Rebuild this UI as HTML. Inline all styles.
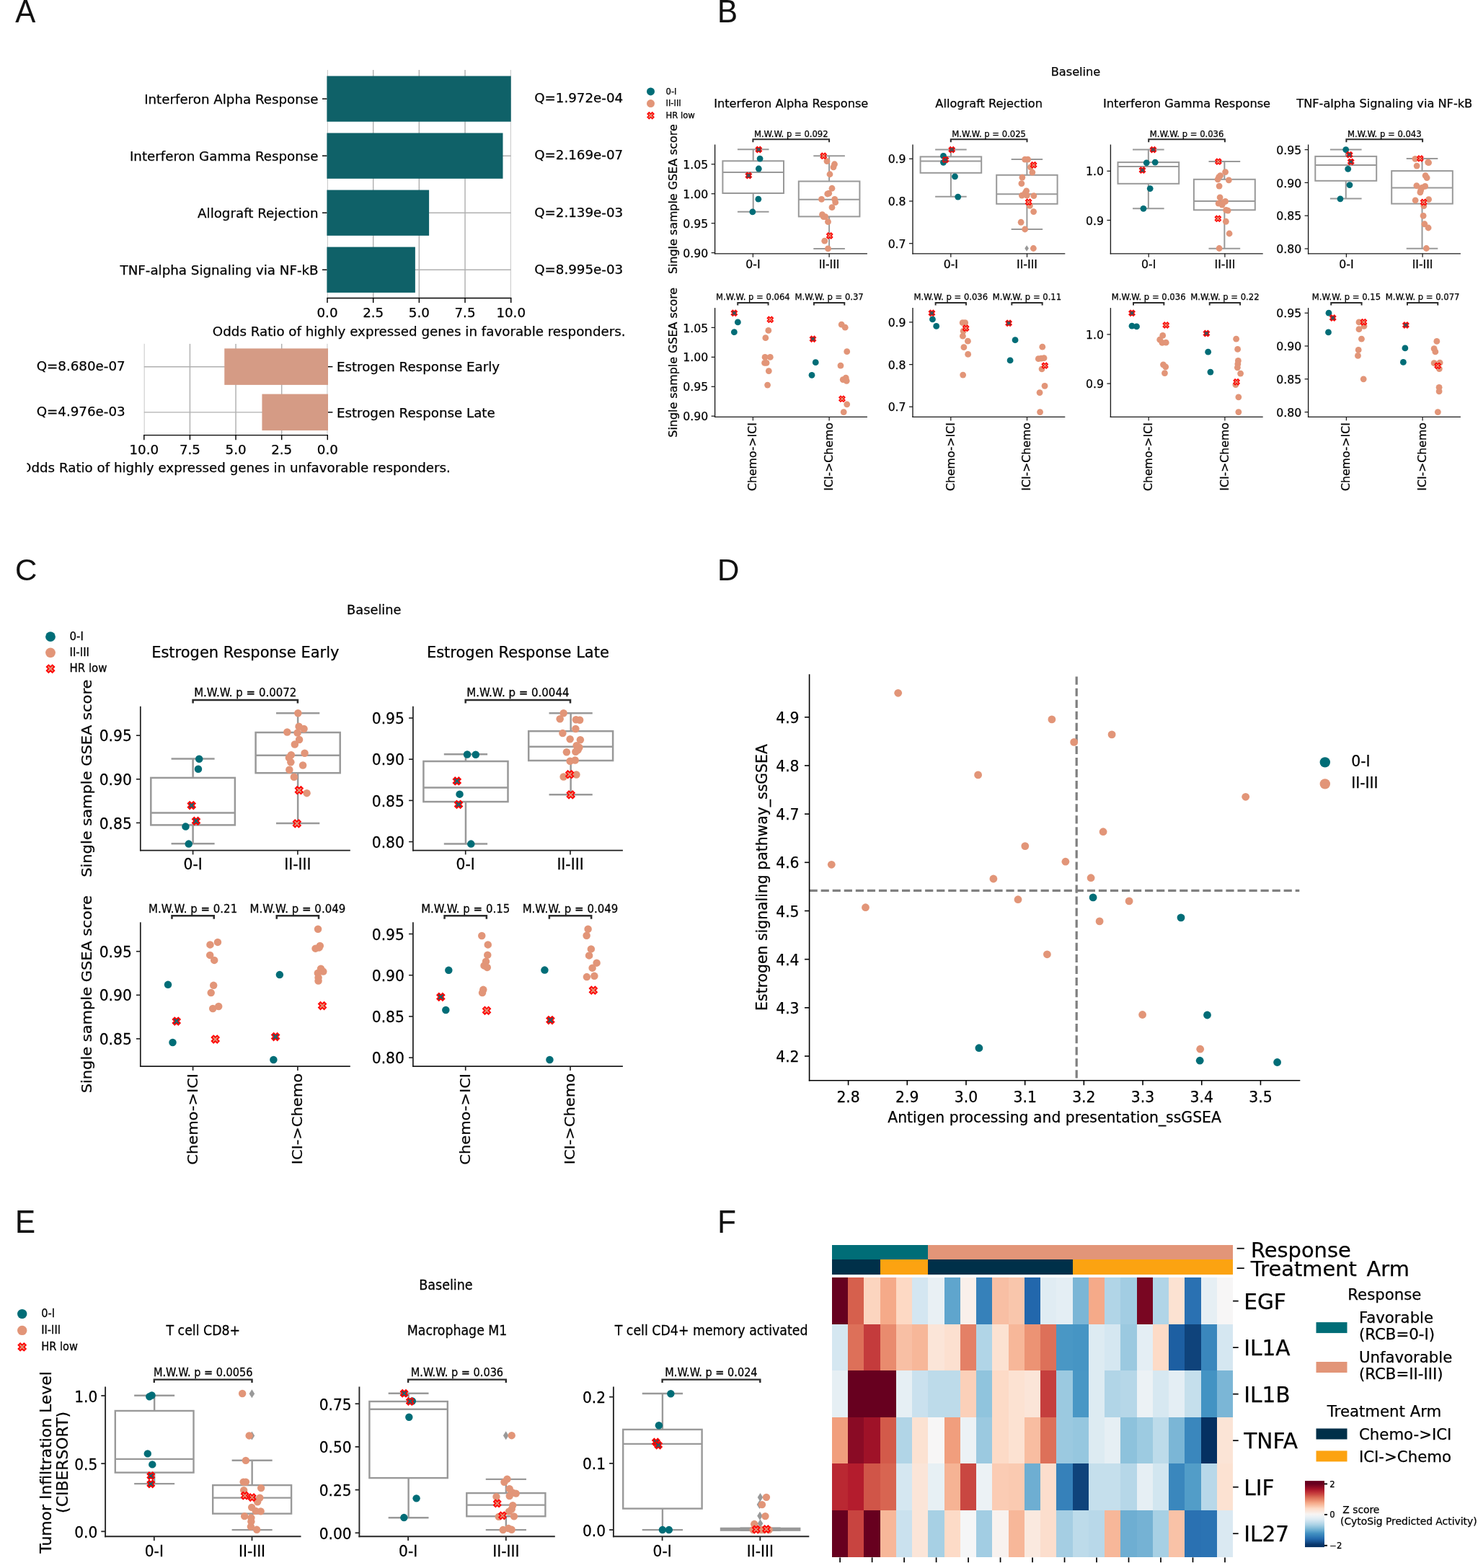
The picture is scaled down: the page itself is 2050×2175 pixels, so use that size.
<!DOCTYPE html>
<html lang="en"><head><meta charset="utf-8"><title>Figure</title>
<style>html,body{margin:0;padding:0;background:#fff}svg{display:block}text{font-family:"DejaVu Sans","Liberation Sans",sans-serif;fill:#000;stroke:#000;stroke-width:0.25px}.lb{font-family:"Liberation Sans",sans-serif;fill:#111;stroke:#111;stroke-width:0.1px}</style></head>
<body>
<svg width="2050" height="2175" viewBox="0 0 2050 2175">
<rect width="2050" height="2175" fill="#fff"/>
<!-- panel labels -->
<text transform="translate(21.2 30.8) scale(1 1.0400)" font-size="42" class="lb" fill="#111">A</text>
<text transform="translate(995 30.6) scale(1 1.0400)" font-size="42" class="lb" fill="#111">B</text>
<text transform="translate(21 805.3) scale(1 1.0100)" font-size="42" class="lb" fill="#111">C</text>
<text transform="translate(995 805.3) scale(1 1.0100)" font-size="42" class="lb" fill="#111">D</text>
<text transform="translate(21 1710.4) scale(1 1.0480)" font-size="42" class="lb" fill="#111">E</text>
<text transform="translate(995.2 1710.4) scale(1 1.0480)" font-size="42" class="lb" fill="#111">F</text>
<!-- panel A -->
<line x1="454.36" y1="97" x2="454.36" y2="413.4" stroke="#b0b0b0" stroke-width="0.72"/>
<line x1="517.67" y1="97" x2="517.67" y2="413.4" stroke="#b0b0b0" stroke-width="1.45"/>
<line x1="581.35" y1="97" x2="581.35" y2="413.4" stroke="#b0b0b0" stroke-width="1.45"/>
<line x1="645.03" y1="97" x2="645.03" y2="413.4" stroke="#b0b0b0" stroke-width="1.45"/>
<line x1="708.34" y1="97" x2="708.34" y2="413.4" stroke="#b0b0b0" stroke-width="0.72"/>
<line x1="454" y1="137.1" x2="708.7" y2="137.1" stroke="#b0b0b0" stroke-width="1.45"/>
<line x1="454" y1="216.15" x2="708.7" y2="216.15" stroke="#b0b0b0" stroke-width="1.45"/>
<line x1="454" y1="295.2" x2="708.7" y2="295.2" stroke="#b0b0b0" stroke-width="1.45"/>
<line x1="454" y1="374.25" x2="708.7" y2="374.25" stroke="#b0b0b0" stroke-width="1.45"/>
<rect x="453.4" y="105.45" width="255.3" height="63.3" fill="#0f6168"/>
<rect x="453.4" y="184.5" width="244.09" height="63.3" fill="#0f6168"/>
<rect x="453.4" y="263.55" width="141.7" height="63.3" fill="#0f6168"/>
<rect x="453.4" y="342.6" width="122.47" height="63.3" fill="#0f6168"/>
<line x1="453.3" y1="413.4" x2="709.4" y2="413.4" stroke="#000" stroke-width="1.45"/>
<line x1="454" y1="413.4" x2="454" y2="420" stroke="#000" stroke-width="1.45"/>
<text x="454" y="440.4" font-size="18.26" text-anchor="middle">0.0</text>
<line x1="517.67" y1="413.4" x2="517.67" y2="420" stroke="#000" stroke-width="1.45"/>
<text x="517.67" y="440.4" font-size="18.26" text-anchor="middle">2.5</text>
<line x1="581.35" y1="413.4" x2="581.35" y2="420" stroke="#000" stroke-width="1.45"/>
<text x="581.35" y="440.4" font-size="18.26" text-anchor="middle">5.0</text>
<line x1="645.03" y1="413.4" x2="645.03" y2="420" stroke="#000" stroke-width="1.45"/>
<text x="645.03" y="440.4" font-size="18.26" text-anchor="middle">7.5</text>
<line x1="708.7" y1="413.4" x2="708.7" y2="420" stroke="#000" stroke-width="1.45"/>
<text x="708.7" y="440.4" font-size="18.26" text-anchor="middle">10.0</text>
<line x1="447" y1="137.1" x2="453.4" y2="137.1" stroke="#000" stroke-width="1.45"/>
<text x="441.6" y="144.3" font-size="18.26" text-anchor="end">Interferon Alpha Response</text>
<text x="741.2" y="142.4" font-size="18.26">Q=1.972e-04</text>
<line x1="447" y1="216.15" x2="453.4" y2="216.15" stroke="#000" stroke-width="1.45"/>
<text x="441.6" y="223.35" font-size="18.26" text-anchor="end">Interferon Gamma Response</text>
<text x="741.2" y="221.45" font-size="18.26">Q=2.169e-07</text>
<line x1="447" y1="295.2" x2="453.4" y2="295.2" stroke="#000" stroke-width="1.45"/>
<text x="441.6" y="302.4" font-size="18.26" text-anchor="end">Allograft Rejection</text>
<text x="741.2" y="300.5" font-size="18.26">Q=2.139e-03</text>
<line x1="447" y1="374.25" x2="453.4" y2="374.25" stroke="#000" stroke-width="1.45"/>
<text x="441.6" y="381.45" font-size="18.26" text-anchor="end">TNF-alpha Signaling via NF-kB</text>
<text x="741.2" y="379.55" font-size="18.26">Q=8.995e-03</text>
<text x="581.2" y="465.9" font-size="18.26" text-anchor="middle">Odds Ratio of highly expressed genes in favorable responders.</text>
<line x1="200.16" y1="476.9" x2="200.16" y2="603.6" stroke="#b0b0b0" stroke-width="0.72"/>
<line x1="263.43" y1="476.9" x2="263.43" y2="603.6" stroke="#b0b0b0" stroke-width="1.45"/>
<line x1="327.05" y1="476.9" x2="327.05" y2="603.6" stroke="#b0b0b0" stroke-width="1.45"/>
<line x1="390.68" y1="476.9" x2="390.68" y2="603.6" stroke="#b0b0b0" stroke-width="1.45"/>
<line x1="453.94" y1="476.9" x2="453.94" y2="603.6" stroke="#b0b0b0" stroke-width="0.72"/>
<line x1="199.8" y1="508.65" x2="454.3" y2="508.65" stroke="#b0b0b0" stroke-width="1.45"/>
<line x1="199.8" y1="571.85" x2="454.3" y2="571.85" stroke="#b0b0b0" stroke-width="1.45"/>
<rect x="311.27" y="483.4" width="143.73" height="50.5" fill="#d59b85"/>
<rect x="363.44" y="546.6" width="91.56" height="50.5" fill="#d59b85"/>
<line x1="199.1" y1="603.6" x2="455" y2="603.6" stroke="#000" stroke-width="1.45"/>
<line x1="199.8" y1="603.6" x2="199.8" y2="610.2" stroke="#000" stroke-width="1.45"/>
<text x="199.8" y="630" font-size="18.26" text-anchor="middle">10.0</text>
<line x1="263.43" y1="603.6" x2="263.43" y2="610.2" stroke="#000" stroke-width="1.45"/>
<text x="263.43" y="630" font-size="18.26" text-anchor="middle">7.5</text>
<line x1="327.05" y1="603.6" x2="327.05" y2="610.2" stroke="#000" stroke-width="1.45"/>
<text x="327.05" y="630" font-size="18.26" text-anchor="middle">5.0</text>
<line x1="390.68" y1="603.6" x2="390.68" y2="610.2" stroke="#000" stroke-width="1.45"/>
<text x="390.68" y="630" font-size="18.26" text-anchor="middle">2.5</text>
<line x1="454.3" y1="603.6" x2="454.3" y2="610.2" stroke="#000" stroke-width="1.45"/>
<text x="454.3" y="630" font-size="18.26" text-anchor="middle">0.0</text>
<line x1="455" y1="508.65" x2="461.4" y2="508.65" stroke="#000" stroke-width="1.45"/>
<text x="466.9" y="515.45" font-size="18.26">Estrogen Response Early</text>
<text x="50.7" y="513.75" font-size="18.26">Q=8.680e-07</text>
<line x1="455" y1="571.85" x2="461.4" y2="571.85" stroke="#000" stroke-width="1.45"/>
<text x="466.9" y="578.65" font-size="18.26">Estrogen Response Late</text>
<text x="50.7" y="576.95" font-size="18.26">Q=4.976e-03</text>
<clipPath id="clipA"><rect x="37.4" y="630" width="700" height="40"/></clipPath>
<text x="327" y="654.8" font-size="18.26" text-anchor="middle" clip-path="url(#clipA)">Odds Ratio of highly expressed genes in unfavorable responders.</text>
<!-- panel B -->
<text x="1492" y="105" font-size="16.2" text-anchor="middle">Baseline</text>
<circle cx="902.5" cy="126.9" r="5.5" fill="#006d77"/>
<circle cx="902.5" cy="143.6" r="5.5" fill="#e29578"/>
<polygon points="900.3,155.9 902.5,158.1 904.7,155.9 906.9,158.1 904.7,160.3 906.9,162.5 904.7,164.7 902.5,162.5 900.3,164.7 898.1,162.5 900.3,160.3 898.1,158.1" fill="#e29578" stroke="#ff0000" stroke-width="1.5" stroke-linejoin="miter"/>
<text x="923.5" y="130.7" font-size="11.6">0-I</text>
<text x="923.5" y="147.4" font-size="11.6">II-III</text>
<text x="923.5" y="164.1" font-size="11.6">HR low</text>
<text x="1097.25" y="148.9" font-size="16.2" text-anchor="middle">Interferon Alpha Response</text>
<line x1="1044.7" y1="207.3" x2="1044.7" y2="223.3" stroke="#999999" stroke-width="2"/>
<line x1="1044.7" y1="268" x2="1044.7" y2="293.7" stroke="#999999" stroke-width="2"/>
<line x1="1022.92" y1="207.3" x2="1066.48" y2="207.3" stroke="#999999" stroke-width="2"/>
<line x1="1022.92" y1="293.7" x2="1066.48" y2="293.7" stroke="#999999" stroke-width="2"/>
<rect x="1002.4" y="223.3" width="84.6" height="44.7" fill="#fff" stroke="#999999" stroke-width="2"/>
<line x1="1002.4" y1="239" x2="1087" y2="239" stroke="#999999" stroke-width="2"/>
<line x1="1150.1" y1="216.3" x2="1150.1" y2="251.5" stroke="#999999" stroke-width="2"/>
<line x1="1150.1" y1="300.4" x2="1150.1" y2="344.9" stroke="#999999" stroke-width="2"/>
<line x1="1128.32" y1="216.3" x2="1171.88" y2="216.3" stroke="#999999" stroke-width="2"/>
<line x1="1128.32" y1="344.9" x2="1171.88" y2="344.9" stroke="#999999" stroke-width="2"/>
<rect x="1107.8" y="251.5" width="84.6" height="48.9" fill="#fff" stroke="#999999" stroke-width="2"/>
<line x1="1107.8" y1="276.7" x2="1192.4" y2="276.7" stroke="#999999" stroke-width="2"/>
<circle cx="1146.98" cy="223.53" r="4.4" fill="#e29578"/>
<circle cx="1157.47" cy="227.77" r="4.4" fill="#e29578"/>
<circle cx="1155.97" cy="231.77" r="4.4" fill="#e29578"/>
<circle cx="1150.98" cy="241.76" r="4.4" fill="#e29578"/>
<circle cx="1153.98" cy="261.24" r="4.4" fill="#e29578"/>
<circle cx="1149.73" cy="268.23" r="4.4" fill="#e29578"/>
<circle cx="1147.73" cy="268.98" r="4.4" fill="#e29578"/>
<circle cx="1139.49" cy="276.47" r="4.4" fill="#e29578"/>
<circle cx="1157.72" cy="276.47" r="4.4" fill="#e29578"/>
<circle cx="1158.72" cy="280.72" r="4.4" fill="#e29578"/>
<circle cx="1153.98" cy="287.71" r="4.4" fill="#e29578"/>
<circle cx="1140.49" cy="297.7" r="4.4" fill="#e29578"/>
<circle cx="1142.24" cy="300.7" r="4.4" fill="#e29578"/>
<circle cx="1144.74" cy="300.7" r="4.4" fill="#e29578"/>
<circle cx="1148.48" cy="307.69" r="4.4" fill="#e29578"/>
<circle cx="1143.74" cy="334.17" r="4.4" fill="#e29578"/>
<circle cx="1148.48" cy="344.91" r="4.4" fill="#e29578"/>
<circle cx="1054.08" cy="220.03" r="4.4" fill="#006d77"/>
<circle cx="1052.33" cy="234.02" r="4.4" fill="#006d77"/>
<circle cx="1051.83" cy="276.22" r="4.4" fill="#006d77"/>
<circle cx="1043.84" cy="293.96" r="4.4" fill="#006d77"/>
<polygon points="1140.26,212.33 1142.24,214.31 1144.21,212.33 1146.19,214.31 1144.21,216.28 1146.19,218.26 1144.21,220.23 1142.24,218.26 1140.26,220.23 1138.29,218.26 1140.26,216.28 1138.29,214.31" fill="#e29578" stroke="#ff0000" stroke-width="1.45" stroke-linejoin="miter"/>
<polygon points="1148.75,322.97 1150.73,324.95 1152.7,322.97 1154.68,324.95 1152.7,326.92 1154.68,328.9 1152.7,330.87 1150.73,328.9 1148.75,330.87 1146.78,328.9 1148.75,326.92 1146.78,324.95" fill="#e29578" stroke="#ff0000" stroke-width="1.45" stroke-linejoin="miter"/>
<polygon points="1050.35,203.59 1052.33,205.57 1054.3,203.59 1056.28,205.57 1054.3,207.54 1056.28,209.52 1054.3,211.49 1052.33,209.52 1050.35,211.49 1048.38,209.52 1050.35,207.54 1048.38,205.57" fill="#006d77" stroke="#ff0000" stroke-width="1.45" stroke-linejoin="miter"/>
<polygon points="1036.37,239.56 1038.34,241.53 1040.32,239.56 1042.29,241.53 1040.32,243.51 1042.29,245.48 1040.32,247.46 1038.34,245.48 1036.37,247.46 1034.39,245.48 1036.37,243.51 1034.39,241.53" fill="#006d77" stroke="#ff0000" stroke-width="1.45" stroke-linejoin="miter"/>
<line x1="991.6" y1="200.5" x2="991.6" y2="352.48" stroke="#1a1a1a" stroke-width="1.35"/>
<line x1="990.93" y1="351.8" x2="1202.9" y2="351.8" stroke="#1a1a1a" stroke-width="1.35"/>
<line x1="1044.4" y1="351.8" x2="1044.4" y2="356.8" stroke="#1a1a1a" stroke-width="1.25"/>
<text x="1044.4" y="371.8" font-size="15.7" text-anchor="middle">0-I</text>
<line x1="1150.1" y1="351.8" x2="1150.1" y2="356.8" stroke="#1a1a1a" stroke-width="1.25"/>
<text x="1150.1" y="371.8" font-size="15.7" text-anchor="middle">II-III</text>
<line x1="986.6" y1="227.8" x2="991.6" y2="227.8" stroke="#1a1a1a" stroke-width="1.25"/>
<text x="982.2" y="233.93" font-size="15.7" text-anchor="end">1.05</text>
<line x1="986.6" y1="268.75" x2="991.6" y2="268.75" stroke="#1a1a1a" stroke-width="1.25"/>
<text x="982.2" y="274.88" font-size="15.7" text-anchor="end">1.00</text>
<line x1="986.6" y1="309.7" x2="991.6" y2="309.7" stroke="#1a1a1a" stroke-width="1.25"/>
<text x="982.2" y="315.83" font-size="15.7" text-anchor="end">0.95</text>
<line x1="986.6" y1="350.6" x2="991.6" y2="350.6" stroke="#1a1a1a" stroke-width="1.25"/>
<text x="982.2" y="356.73" font-size="15.7" text-anchor="end">0.90</text>
<polyline points="1044.4,197.2 1044.4,193.3 1150.1,193.3 1150.1,197.2" fill="none" stroke="#2b2b2b" stroke-width="2"/>
<text x="1097.25" y="189.8" font-size="11.6" text-anchor="middle">M.W.W. p = 0.092</text>
<circle cx="1065.81" cy="458.42" r="4.4" fill="#e29578"/>
<circle cx="1061.82" cy="468.66" r="4.4" fill="#e29578"/>
<circle cx="1061.07" cy="495.38" r="4.4" fill="#e29578"/>
<circle cx="1068.31" cy="495.38" r="4.4" fill="#e29578"/>
<circle cx="1060.57" cy="503.38" r="4.4" fill="#e29578"/>
<circle cx="1063.07" cy="503.38" r="4.4" fill="#e29578"/>
<circle cx="1066.31" cy="514.62" r="4.4" fill="#e29578"/>
<circle cx="1064.57" cy="534.1" r="4.4" fill="#e29578"/>
<circle cx="1167.21" cy="450.18" r="4.4" fill="#e29578"/>
<circle cx="1172.21" cy="454.18" r="4.4" fill="#e29578"/>
<circle cx="1174.71" cy="487.64" r="4.4" fill="#e29578"/>
<circle cx="1165.96" cy="507.12" r="4.4" fill="#e29578"/>
<circle cx="1173.21" cy="524.11" r="4.4" fill="#e29578"/>
<circle cx="1169.21" cy="526.6" r="4.4" fill="#e29578"/>
<circle cx="1174.21" cy="528.35" r="4.4" fill="#e29578"/>
<circle cx="1174.71" cy="560.82" r="4.4" fill="#e29578"/>
<circle cx="1170.21" cy="571.56" r="4.4" fill="#e29578"/>
<circle cx="1023.36" cy="446.93" r="4.4" fill="#006d77"/>
<circle cx="1018.36" cy="460.67" r="4.4" fill="#006d77"/>
<circle cx="1131.25" cy="502.63" r="4.4" fill="#006d77"/>
<circle cx="1126" cy="520.36" r="4.4" fill="#006d77"/>
<polygon points="1066.34,439.24 1068.31,441.21 1070.29,439.24 1072.26,441.21 1070.29,443.19 1072.26,445.16 1070.29,447.14 1068.31,445.16 1066.34,447.14 1064.36,445.16 1066.34,443.19 1064.36,441.21" fill="#e29578" stroke="#ff0000" stroke-width="1.45" stroke-linejoin="miter"/>
<polygon points="1165.99,549.38 1167.96,551.35 1169.94,549.38 1171.91,551.35 1169.94,553.33 1171.91,555.3 1169.94,557.28 1167.96,555.3 1165.99,557.28 1164.01,555.3 1165.99,553.33 1164.01,551.35" fill="#e29578" stroke="#ff0000" stroke-width="1.45" stroke-linejoin="miter"/>
<polygon points="1016.39,430.25 1018.36,432.22 1020.34,430.25 1022.31,432.22 1020.34,434.2 1022.31,436.17 1020.34,438.15 1018.36,436.17 1016.39,438.15 1014.41,436.17 1016.39,434.2 1014.41,432.22" fill="#006d77" stroke="#ff0000" stroke-width="1.45" stroke-linejoin="miter"/>
<polygon points="1125.53,466.21 1127.5,468.18 1129.48,466.21 1131.45,468.18 1129.48,470.16 1131.45,472.13 1129.48,474.11 1127.5,472.13 1125.53,474.11 1123.55,472.13 1125.53,470.16 1123.55,468.18" fill="#006d77" stroke="#ff0000" stroke-width="1.45" stroke-linejoin="miter"/>
<line x1="991.6" y1="427.1" x2="991.6" y2="579.07" stroke="#1a1a1a" stroke-width="1.35"/>
<line x1="990.93" y1="578.4" x2="1202.9" y2="578.4" stroke="#1a1a1a" stroke-width="1.35"/>
<line x1="1044.4" y1="578.4" x2="1044.4" y2="583.4" stroke="#1a1a1a" stroke-width="1.25"/>
<text transform="translate(1049.2 586.2) rotate(-90)" font-size="15.7" text-anchor="end">Chemo-&gt;ICI</text>
<line x1="1150.1" y1="578.4" x2="1150.1" y2="583.4" stroke="#1a1a1a" stroke-width="1.25"/>
<text transform="translate(1154.9 586.2) rotate(-90)" font-size="15.7" text-anchor="end">ICI-&gt;Chemo</text>
<line x1="986.6" y1="454.4" x2="991.6" y2="454.4" stroke="#1a1a1a" stroke-width="1.25"/>
<text x="982.2" y="460.53" font-size="15.7" text-anchor="end">1.05</text>
<line x1="986.6" y1="495.35" x2="991.6" y2="495.35" stroke="#1a1a1a" stroke-width="1.25"/>
<text x="982.2" y="501.48" font-size="15.7" text-anchor="end">1.00</text>
<line x1="986.6" y1="536.3" x2="991.6" y2="536.3" stroke="#1a1a1a" stroke-width="1.25"/>
<text x="982.2" y="542.43" font-size="15.7" text-anchor="end">0.95</text>
<line x1="986.6" y1="577.2" x2="991.6" y2="577.2" stroke="#1a1a1a" stroke-width="1.25"/>
<text x="982.2" y="583.33" font-size="15.7" text-anchor="end">0.90</text>
<polyline points="1023.25,423.6 1023.25,419.9 1065.55,419.9 1065.55,423.6" fill="none" stroke="#2b2b2b" stroke-width="2"/>
<text x="1044.4" y="415.8" font-size="11.6" text-anchor="middle">M.W.W. p = 0.064</text>
<polyline points="1128.95,423.6 1128.95,419.9 1171.25,419.9 1171.25,423.6" fill="none" stroke="#2b2b2b" stroke-width="2"/>
<text x="1150.1" y="415.8" font-size="11.6" text-anchor="middle">M.W.W. p = 0.37</text>
<text x="1371.65" y="148.9" font-size="16.2" text-anchor="middle">Allograft Rejection</text>
<line x1="1318.9" y1="207.4" x2="1318.9" y2="217.4" stroke="#999999" stroke-width="2"/>
<line x1="1318.9" y1="239.8" x2="1318.9" y2="272.8" stroke="#999999" stroke-width="2"/>
<line x1="1297.12" y1="207.4" x2="1340.68" y2="207.4" stroke="#999999" stroke-width="2"/>
<line x1="1297.12" y1="272.8" x2="1340.68" y2="272.8" stroke="#999999" stroke-width="2"/>
<rect x="1276.6" y="217.4" width="84.6" height="22.4" fill="#fff" stroke="#999999" stroke-width="2"/>
<line x1="1276.6" y1="223.6" x2="1361.2" y2="223.6" stroke="#999999" stroke-width="2"/>
<line x1="1424.4" y1="220.9" x2="1424.4" y2="242.8" stroke="#999999" stroke-width="2"/>
<line x1="1424.4" y1="282.8" x2="1424.4" y2="318" stroke="#999999" stroke-width="2"/>
<line x1="1402.67" y1="220.9" x2="1446.13" y2="220.9" stroke="#999999" stroke-width="2"/>
<line x1="1402.67" y1="318" x2="1446.13" y2="318" stroke="#999999" stroke-width="2"/>
<rect x="1382.2" y="242.8" width="84.4" height="40" fill="#fff" stroke="#999999" stroke-width="2"/>
<line x1="1382.2" y1="269.3" x2="1466.6" y2="269.3" stroke="#999999" stroke-width="2"/>
<polygon points="1424.1,340.3 1426.9,344.5 1424.1,348.7 1421.3,344.5" fill="#999999"/>
<circle cx="1421.63" cy="221.11" r="4.4" fill="#e29578"/>
<circle cx="1425.62" cy="221.11" r="4.4" fill="#e29578"/>
<circle cx="1429.37" cy="231.85" r="4.4" fill="#e29578"/>
<circle cx="1431.87" cy="239.09" r="4.4" fill="#e29578"/>
<circle cx="1417.88" cy="246.08" r="4.4" fill="#e29578"/>
<circle cx="1416.88" cy="254.58" r="4.4" fill="#e29578"/>
<circle cx="1423.63" cy="264.82" r="4.4" fill="#e29578"/>
<circle cx="1421.88" cy="267.81" r="4.4" fill="#e29578"/>
<circle cx="1417.38" cy="271.06" r="4.4" fill="#e29578"/>
<circle cx="1424.38" cy="271.06" r="4.4" fill="#e29578"/>
<circle cx="1433.87" cy="271.56" r="4.4" fill="#e29578"/>
<circle cx="1428.37" cy="285.29" r="4.4" fill="#e29578"/>
<circle cx="1433.62" cy="293.54" r="4.4" fill="#e29578"/>
<circle cx="1416.13" cy="308.27" r="4.4" fill="#e29578"/>
<circle cx="1421.63" cy="318.01" r="4.4" fill="#e29578"/>
<circle cx="1433.37" cy="344.49" r="4.4" fill="#e29578"/>
<circle cx="1308.49" cy="216.36" r="4.4" fill="#006d77"/>
<circle cx="1308.49" cy="225.35" r="4.4" fill="#006d77"/>
<circle cx="1324.48" cy="244.84" r="4.4" fill="#006d77"/>
<circle cx="1328.72" cy="273.06" r="4.4" fill="#006d77"/>
<polygon points="1431.64,224.9 1433.62,226.88 1435.59,224.9 1437.57,226.88 1435.59,228.85 1437.57,230.83 1435.59,232.8 1433.62,230.83 1431.64,232.8 1429.67,230.83 1431.64,228.85 1429.67,226.88" fill="#e29578" stroke="#ff0000" stroke-width="1.45" stroke-linejoin="miter"/>
<polygon points="1424.65,276.35 1426.62,278.32 1428.6,276.35 1430.57,278.32 1428.6,280.3 1430.57,282.27 1428.6,284.25 1426.62,282.27 1424.65,284.25 1422.67,282.27 1424.65,280.3 1422.67,278.32" fill="#e29578" stroke="#ff0000" stroke-width="1.45" stroke-linejoin="miter"/>
<polygon points="1318.25,203.67 1320.23,205.65 1322.2,203.67 1324.18,205.65 1322.2,207.62 1324.18,209.6 1322.2,211.57 1320.23,209.6 1318.25,211.57 1316.28,209.6 1318.25,207.62 1316.28,205.65" fill="#006d77" stroke="#ff0000" stroke-width="1.45" stroke-linejoin="miter"/>
<polygon points="1309.51,217.66 1311.49,219.63 1313.46,217.66 1315.44,219.63 1313.46,221.61 1315.44,223.58 1313.46,225.56 1311.49,223.58 1309.51,225.56 1307.54,223.58 1309.51,221.61 1307.54,219.63" fill="#006d77" stroke="#ff0000" stroke-width="1.45" stroke-linejoin="miter"/>
<line x1="1266" y1="200.5" x2="1266" y2="352.48" stroke="#1a1a1a" stroke-width="1.35"/>
<line x1="1265.33" y1="351.8" x2="1477.3" y2="351.8" stroke="#1a1a1a" stroke-width="1.35"/>
<line x1="1318.8" y1="351.8" x2="1318.8" y2="356.8" stroke="#1a1a1a" stroke-width="1.25"/>
<text x="1318.8" y="371.8" font-size="15.7" text-anchor="middle">0-I</text>
<line x1="1424.5" y1="351.8" x2="1424.5" y2="356.8" stroke="#1a1a1a" stroke-width="1.25"/>
<text x="1424.5" y="371.8" font-size="15.7" text-anchor="middle">II-III</text>
<line x1="1261" y1="220.3" x2="1266" y2="220.3" stroke="#1a1a1a" stroke-width="1.25"/>
<text x="1256.6" y="226.43" font-size="15.7" text-anchor="end">0.9</text>
<line x1="1261" y1="279" x2="1266" y2="279" stroke="#1a1a1a" stroke-width="1.25"/>
<text x="1256.6" y="285.13" font-size="15.7" text-anchor="end">0.8</text>
<line x1="1261" y1="337.7" x2="1266" y2="337.7" stroke="#1a1a1a" stroke-width="1.25"/>
<text x="1256.6" y="343.83" font-size="15.7" text-anchor="end">0.7</text>
<polyline points="1318.8,197.2 1318.8,193.3 1424.5,193.3 1424.5,197.2" fill="none" stroke="#2b2b2b" stroke-width="2"/>
<text x="1371.65" y="189.8" font-size="11.6" text-anchor="middle">M.W.W. p = 0.025</text>
<circle cx="1335.15" cy="447.68" r="4.4" fill="#e29578"/>
<circle cx="1338.65" cy="447.68" r="4.4" fill="#e29578"/>
<circle cx="1336.15" cy="459.17" r="4.4" fill="#e29578"/>
<circle cx="1335.4" cy="466.16" r="4.4" fill="#e29578"/>
<circle cx="1342.4" cy="473.16" r="4.4" fill="#e29578"/>
<circle cx="1336.9" cy="481.65" r="4.4" fill="#e29578"/>
<circle cx="1342.65" cy="491.39" r="4.4" fill="#e29578"/>
<circle cx="1335.65" cy="520.11" r="4.4" fill="#e29578"/>
<circle cx="1445.79" cy="481.15" r="4.4" fill="#e29578"/>
<circle cx="1440.3" cy="497.63" r="4.4" fill="#e29578"/>
<circle cx="1444.3" cy="497.13" r="4.4" fill="#e29578"/>
<circle cx="1448.04" cy="496.63" r="4.4" fill="#e29578"/>
<circle cx="1445.04" cy="511.87" r="4.4" fill="#e29578"/>
<circle cx="1449.04" cy="535.34" r="4.4" fill="#e29578"/>
<circle cx="1442.05" cy="544.59" r="4.4" fill="#e29578"/>
<circle cx="1442.55" cy="571.56" r="4.4" fill="#e29578"/>
<circle cx="1293.45" cy="442.94" r="4.4" fill="#006d77"/>
<circle cx="1298.69" cy="452.43" r="4.4" fill="#006d77"/>
<circle cx="1408.08" cy="471.66" r="4.4" fill="#006d77"/>
<circle cx="1401.09" cy="499.88" r="4.4" fill="#006d77"/>
<polygon points="1337.68,451.22 1339.65,453.2 1341.63,451.22 1343.6,453.2 1341.63,455.17 1343.6,457.15 1341.63,459.12 1339.65,457.15 1337.68,459.12 1335.7,457.15 1337.68,455.17 1335.7,453.2" fill="#e29578" stroke="#ff0000" stroke-width="1.45" stroke-linejoin="miter"/>
<polygon points="1447.32,503.17 1449.29,505.15 1451.27,503.17 1453.24,505.15 1451.27,507.12 1453.24,509.1 1451.27,511.07 1449.29,509.1 1447.32,511.07 1445.34,509.1 1447.32,507.12 1445.34,505.15" fill="#e29578" stroke="#ff0000" stroke-width="1.45" stroke-linejoin="miter"/>
<polygon points="1290.47,430.25 1292.45,432.22 1294.42,430.25 1296.4,432.22 1294.42,434.2 1296.4,436.17 1294.42,438.15 1292.45,436.17 1290.47,438.15 1288.5,436.17 1290.47,434.2 1288.5,432.22" fill="#006d77" stroke="#ff0000" stroke-width="1.45" stroke-linejoin="miter"/>
<polygon points="1397.12,444.23 1399.09,446.21 1401.07,444.23 1403.04,446.21 1401.07,448.18 1403.04,450.16 1401.07,452.13 1399.09,450.16 1397.12,452.13 1395.14,450.16 1397.12,448.18 1395.14,446.21" fill="#006d77" stroke="#ff0000" stroke-width="1.45" stroke-linejoin="miter"/>
<line x1="1266" y1="427.1" x2="1266" y2="579.07" stroke="#1a1a1a" stroke-width="1.35"/>
<line x1="1265.33" y1="578.4" x2="1477.3" y2="578.4" stroke="#1a1a1a" stroke-width="1.35"/>
<line x1="1318.8" y1="578.4" x2="1318.8" y2="583.4" stroke="#1a1a1a" stroke-width="1.25"/>
<text transform="translate(1323.6 586.2) rotate(-90)" font-size="15.7" text-anchor="end">Chemo-&gt;ICI</text>
<line x1="1424.5" y1="578.4" x2="1424.5" y2="583.4" stroke="#1a1a1a" stroke-width="1.25"/>
<text transform="translate(1429.3 586.2) rotate(-90)" font-size="15.7" text-anchor="end">ICI-&gt;Chemo</text>
<line x1="1261" y1="446.9" x2="1266" y2="446.9" stroke="#1a1a1a" stroke-width="1.25"/>
<text x="1256.6" y="453.03" font-size="15.7" text-anchor="end">0.9</text>
<line x1="1261" y1="505.6" x2="1266" y2="505.6" stroke="#1a1a1a" stroke-width="1.25"/>
<text x="1256.6" y="511.73" font-size="15.7" text-anchor="end">0.8</text>
<line x1="1261" y1="564.3" x2="1266" y2="564.3" stroke="#1a1a1a" stroke-width="1.25"/>
<text x="1256.6" y="570.43" font-size="15.7" text-anchor="end">0.7</text>
<polyline points="1297.65,423.6 1297.65,419.9 1339.95,419.9 1339.95,423.6" fill="none" stroke="#2b2b2b" stroke-width="2"/>
<text x="1318.8" y="415.8" font-size="11.6" text-anchor="middle">M.W.W. p = 0.036</text>
<polyline points="1403.35,423.6 1403.35,419.9 1445.65,419.9 1445.65,423.6" fill="none" stroke="#2b2b2b" stroke-width="2"/>
<text x="1424.5" y="415.8" font-size="11.6" text-anchor="middle">M.W.W. p = 0.11</text>
<text x="1646.05" y="148.9" font-size="16.2" text-anchor="middle">Interferon Gamma Response</text>
<line x1="1592.85" y1="207.4" x2="1592.85" y2="225.1" stroke="#999999" stroke-width="2"/>
<line x1="1592.85" y1="254.8" x2="1592.85" y2="289.3" stroke="#999999" stroke-width="2"/>
<line x1="1571.04" y1="207.4" x2="1614.66" y2="207.4" stroke="#999999" stroke-width="2"/>
<line x1="1571.04" y1="289.3" x2="1614.66" y2="289.3" stroke="#999999" stroke-width="2"/>
<rect x="1550.5" y="225.1" width="84.7" height="29.7" fill="#fff" stroke="#999999" stroke-width="2"/>
<line x1="1550.5" y1="230.9" x2="1635.2" y2="230.9" stroke="#999999" stroke-width="2"/>
<line x1="1698.35" y1="224.1" x2="1698.35" y2="248.8" stroke="#999999" stroke-width="2"/>
<line x1="1698.35" y1="291.3" x2="1698.35" y2="344.7" stroke="#999999" stroke-width="2"/>
<line x1="1676.49" y1="224.1" x2="1720.21" y2="224.1" stroke="#999999" stroke-width="2"/>
<line x1="1676.49" y1="344.7" x2="1720.21" y2="344.7" stroke="#999999" stroke-width="2"/>
<rect x="1655.9" y="248.8" width="84.9" height="42.5" fill="#fff" stroke="#999999" stroke-width="2"/>
<line x1="1655.9" y1="279" x2="1740.8" y2="279" stroke="#999999" stroke-width="2"/>
<circle cx="1699.6" cy="238.59" r="4.4" fill="#e29578"/>
<circle cx="1692.61" cy="243.59" r="4.4" fill="#e29578"/>
<circle cx="1690.61" cy="245.58" r="4.4" fill="#e29578"/>
<circle cx="1689.11" cy="248.83" r="4.4" fill="#e29578"/>
<circle cx="1704.35" cy="249.83" r="4.4" fill="#e29578"/>
<circle cx="1691.11" cy="258.07" r="4.4" fill="#e29578"/>
<circle cx="1692.11" cy="273.81" r="4.4" fill="#e29578"/>
<circle cx="1699.6" cy="279.3" r="4.4" fill="#e29578"/>
<circle cx="1697.1" cy="280.55" r="4.4" fill="#e29578"/>
<circle cx="1690.11" cy="282.05" r="4.4" fill="#e29578"/>
<circle cx="1695.1" cy="284.05" r="4.4" fill="#e29578"/>
<circle cx="1700.6" cy="291.29" r="4.4" fill="#e29578"/>
<circle cx="1703.1" cy="292.04" r="4.4" fill="#e29578"/>
<circle cx="1700.35" cy="307.27" r="4.4" fill="#e29578"/>
<circle cx="1705.09" cy="324.01" r="4.4" fill="#e29578"/>
<circle cx="1691.11" cy="344.49" r="4.4" fill="#e29578"/>
<circle cx="1590.21" cy="225.85" r="4.4" fill="#006d77"/>
<circle cx="1602.2" cy="225.1" r="4.4" fill="#006d77"/>
<circle cx="1595.2" cy="261.57" r="4.4" fill="#006d77"/>
<circle cx="1585.96" cy="289.29" r="4.4" fill="#006d77"/>
<polygon points="1687.89,220.16 1689.86,222.13 1691.84,220.16 1693.81,222.13 1691.84,224.11 1693.81,226.08 1691.84,228.06 1689.86,226.08 1687.89,228.06 1685.91,226.08 1687.89,224.11 1685.91,222.13" fill="#e29578" stroke="#ff0000" stroke-width="1.45" stroke-linejoin="miter"/>
<polygon points="1687.39,299.33 1689.36,301.3 1691.34,299.33 1693.31,301.3 1691.34,303.28 1693.31,305.25 1691.34,307.23 1689.36,305.25 1687.39,307.23 1685.41,305.25 1687.39,303.28 1685.41,301.3" fill="#e29578" stroke="#ff0000" stroke-width="1.45" stroke-linejoin="miter"/>
<polygon points="1597.48,203.67 1599.45,205.65 1601.43,203.67 1603.4,205.65 1601.43,207.62 1603.4,209.6 1601.43,211.57 1599.45,209.6 1597.48,211.57 1595.5,209.6 1597.48,207.62 1595.5,205.65" fill="#006d77" stroke="#ff0000" stroke-width="1.45" stroke-linejoin="miter"/>
<polygon points="1582.49,232.14 1584.47,234.12 1586.44,232.14 1588.42,234.12 1586.44,236.09 1588.42,238.07 1586.44,240.04 1584.47,238.07 1582.49,240.04 1580.52,238.07 1582.49,236.09 1580.52,234.12" fill="#006d77" stroke="#ff0000" stroke-width="1.45" stroke-linejoin="miter"/>
<line x1="1540.4" y1="200.5" x2="1540.4" y2="352.48" stroke="#1a1a1a" stroke-width="1.35"/>
<line x1="1539.73" y1="351.8" x2="1751.7" y2="351.8" stroke="#1a1a1a" stroke-width="1.35"/>
<line x1="1593.2" y1="351.8" x2="1593.2" y2="356.8" stroke="#1a1a1a" stroke-width="1.25"/>
<text x="1593.2" y="371.8" font-size="15.7" text-anchor="middle">0-I</text>
<line x1="1698.9" y1="351.8" x2="1698.9" y2="356.8" stroke="#1a1a1a" stroke-width="1.25"/>
<text x="1698.9" y="371.8" font-size="15.7" text-anchor="middle">II-III</text>
<line x1="1535.4" y1="237.3" x2="1540.4" y2="237.3" stroke="#1a1a1a" stroke-width="1.25"/>
<text x="1531" y="243.43" font-size="15.7" text-anchor="end">1.0</text>
<line x1="1535.4" y1="305.5" x2="1540.4" y2="305.5" stroke="#1a1a1a" stroke-width="1.25"/>
<text x="1531" y="311.63" font-size="15.7" text-anchor="end">0.9</text>
<polyline points="1593.2,197.2 1593.2,193.3 1698.9,193.3 1698.9,197.2" fill="none" stroke="#2b2b2b" stroke-width="2"/>
<text x="1646.05" y="189.8" font-size="11.6" text-anchor="middle">M.W.W. p = 0.036</text>
<circle cx="1612.72" cy="465.41" r="4.4" fill="#e29578"/>
<circle cx="1608.72" cy="471.16" r="4.4" fill="#e29578"/>
<circle cx="1611.97" cy="475.4" r="4.4" fill="#e29578"/>
<circle cx="1617.21" cy="475.15" r="4.4" fill="#e29578"/>
<circle cx="1613.47" cy="505.87" r="4.4" fill="#e29578"/>
<circle cx="1616.72" cy="508.87" r="4.4" fill="#e29578"/>
<circle cx="1615.47" cy="517.61" r="4.4" fill="#e29578"/>
<circle cx="1714.62" cy="470.16" r="4.4" fill="#e29578"/>
<circle cx="1716.62" cy="484.4" r="4.4" fill="#e29578"/>
<circle cx="1717.36" cy="500.38" r="4.4" fill="#e29578"/>
<circle cx="1716.87" cy="504.88" r="4.4" fill="#e29578"/>
<circle cx="1716.37" cy="509.87" r="4.4" fill="#e29578"/>
<circle cx="1720.61" cy="518.11" r="4.4" fill="#e29578"/>
<circle cx="1713.87" cy="533.6" r="4.4" fill="#e29578"/>
<circle cx="1717.86" cy="550.83" r="4.4" fill="#e29578"/>
<circle cx="1717.86" cy="571.56" r="4.4" fill="#e29578"/>
<circle cx="1570.01" cy="452.18" r="4.4" fill="#006d77"/>
<circle cx="1576.51" cy="452.93" r="4.4" fill="#006d77"/>
<circle cx="1675.66" cy="488.14" r="4.4" fill="#006d77"/>
<circle cx="1678.9" cy="516.11" r="4.4" fill="#006d77"/>
<polygon points="1615.24,446.98 1617.21,448.95 1619.19,446.98 1621.16,448.95 1619.19,450.93 1621.16,452.9 1619.19,454.88 1617.21,452.9 1615.24,454.88 1613.26,452.9 1615.24,450.93 1613.26,448.95" fill="#e29578" stroke="#ff0000" stroke-width="1.45" stroke-linejoin="miter"/>
<polygon points="1713.14,525.9 1715.12,527.88 1717.09,525.9 1719.07,527.88 1717.09,529.85 1719.07,531.83 1717.09,533.8 1715.12,531.83 1713.14,533.8 1711.17,531.83 1713.14,529.85 1711.17,527.88" fill="#e29578" stroke="#ff0000" stroke-width="1.45" stroke-linejoin="miter"/>
<polygon points="1568.04,430.25 1570.01,432.22 1571.99,430.25 1573.96,432.22 1571.99,434.2 1573.96,436.17 1571.99,438.15 1570.01,436.17 1568.04,438.15 1566.06,436.17 1568.04,434.2 1566.06,432.22" fill="#006d77" stroke="#ff0000" stroke-width="1.45" stroke-linejoin="miter"/>
<polygon points="1671.43,458.47 1673.41,460.44 1675.38,458.47 1677.36,460.44 1675.38,462.42 1677.36,464.39 1675.38,466.37 1673.41,464.39 1671.43,466.37 1669.46,464.39 1671.43,462.42 1669.46,460.44" fill="#006d77" stroke="#ff0000" stroke-width="1.45" stroke-linejoin="miter"/>
<line x1="1540.4" y1="427.1" x2="1540.4" y2="579.07" stroke="#1a1a1a" stroke-width="1.35"/>
<line x1="1539.73" y1="578.4" x2="1751.7" y2="578.4" stroke="#1a1a1a" stroke-width="1.35"/>
<line x1="1593.2" y1="578.4" x2="1593.2" y2="583.4" stroke="#1a1a1a" stroke-width="1.25"/>
<text transform="translate(1598 586.2) rotate(-90)" font-size="15.7" text-anchor="end">Chemo-&gt;ICI</text>
<line x1="1698.9" y1="578.4" x2="1698.9" y2="583.4" stroke="#1a1a1a" stroke-width="1.25"/>
<text transform="translate(1703.7 586.2) rotate(-90)" font-size="15.7" text-anchor="end">ICI-&gt;Chemo</text>
<line x1="1535.4" y1="463.9" x2="1540.4" y2="463.9" stroke="#1a1a1a" stroke-width="1.25"/>
<text x="1531" y="470.03" font-size="15.7" text-anchor="end">1.0</text>
<line x1="1535.4" y1="532.1" x2="1540.4" y2="532.1" stroke="#1a1a1a" stroke-width="1.25"/>
<text x="1531" y="538.23" font-size="15.7" text-anchor="end">0.9</text>
<polyline points="1572.05,423.6 1572.05,419.9 1614.35,419.9 1614.35,423.6" fill="none" stroke="#2b2b2b" stroke-width="2"/>
<text x="1593.2" y="415.8" font-size="11.6" text-anchor="middle">M.W.W. p = 0.036</text>
<polyline points="1677.75,423.6 1677.75,419.9 1720.05,419.9 1720.05,423.6" fill="none" stroke="#2b2b2b" stroke-width="2"/>
<text x="1698.9" y="415.8" font-size="11.6" text-anchor="middle">M.W.W. p = 0.22</text>
<text x="1920.25" y="148.9" font-size="16.2" text-anchor="middle">TNF-alpha Signaling via NF-kB</text>
<line x1="1866.75" y1="207.6" x2="1866.75" y2="216.9" stroke="#999999" stroke-width="2"/>
<line x1="1866.75" y1="250.8" x2="1866.75" y2="275.6" stroke="#999999" stroke-width="2"/>
<line x1="1844.89" y1="207.6" x2="1888.61" y2="207.6" stroke="#999999" stroke-width="2"/>
<line x1="1844.89" y1="275.6" x2="1888.61" y2="275.6" stroke="#999999" stroke-width="2"/>
<rect x="1824.3" y="216.9" width="84.9" height="33.9" fill="#fff" stroke="#999999" stroke-width="2"/>
<line x1="1824.3" y1="228.9" x2="1909.2" y2="228.9" stroke="#999999" stroke-width="2"/>
<line x1="1972.5" y1="219.9" x2="1972.5" y2="237.1" stroke="#999999" stroke-width="2"/>
<line x1="1972.5" y1="282.6" x2="1972.5" y2="344.7" stroke="#999999" stroke-width="2"/>
<line x1="1950.72" y1="219.9" x2="1994.28" y2="219.9" stroke="#999999" stroke-width="2"/>
<line x1="1950.72" y1="344.7" x2="1994.28" y2="344.7" stroke="#999999" stroke-width="2"/>
<rect x="1930.2" y="237.1" width="84.6" height="45.5" fill="#fff" stroke="#999999" stroke-width="2"/>
<line x1="1930.2" y1="260.6" x2="2014.8" y2="260.6" stroke="#999999" stroke-width="2"/>
<circle cx="1962.87" cy="220.36" r="4.4" fill="#e29578"/>
<circle cx="1980.6" cy="225.1" r="4.4" fill="#e29578"/>
<circle cx="1981.6" cy="225.6" r="4.4" fill="#e29578"/>
<circle cx="1965.12" cy="230.1" r="4.4" fill="#e29578"/>
<circle cx="1977.1" cy="243.59" r="4.4" fill="#e29578"/>
<circle cx="1979.1" cy="246.58" r="4.4" fill="#e29578"/>
<circle cx="1964.87" cy="257.57" r="4.4" fill="#e29578"/>
<circle cx="1976.61" cy="258.32" r="4.4" fill="#e29578"/>
<circle cx="1972.11" cy="260.32" r="4.4" fill="#e29578"/>
<circle cx="1970.61" cy="264.07" r="4.4" fill="#e29578"/>
<circle cx="1969.86" cy="266.81" r="4.4" fill="#e29578"/>
<circle cx="1981.6" cy="276.55" r="4.4" fill="#e29578"/>
<circle cx="1963.12" cy="277.8" r="4.4" fill="#e29578"/>
<circle cx="1974.86" cy="285.54" r="4.4" fill="#e29578"/>
<circle cx="1974.11" cy="299.28" r="4.4" fill="#e29578"/>
<circle cx="1975.86" cy="310.77" r="4.4" fill="#e29578"/>
<circle cx="1981.1" cy="316.01" r="4.4" fill="#e29578"/>
<circle cx="1978.35" cy="344.49" r="4.4" fill="#e29578"/>
<circle cx="1866.72" cy="207.62" r="4.4" fill="#006d77"/>
<circle cx="1869.71" cy="234.35" r="4.4" fill="#006d77"/>
<circle cx="1871.96" cy="256.57" r="4.4" fill="#006d77"/>
<circle cx="1858.97" cy="275.8" r="4.4" fill="#006d77"/>
<polygon points="1967.89,215.91 1969.86,217.89 1971.84,215.91 1973.81,217.89 1971.84,219.86 1973.81,221.84 1971.84,223.81 1969.86,221.84 1967.89,223.81 1965.91,221.84 1967.89,219.86 1965.91,217.89" fill="#e29578" stroke="#ff0000" stroke-width="1.45" stroke-linejoin="miter"/>
<polygon points="1972.63,276.6 1974.61,278.57 1976.58,276.6 1978.56,278.57 1976.58,280.55 1978.56,282.52 1976.58,284.5 1974.61,282.52 1972.63,284.5 1970.66,282.52 1972.63,280.55 1970.66,278.57" fill="#e29578" stroke="#ff0000" stroke-width="1.45" stroke-linejoin="miter"/>
<polygon points="1869.74,210.67 1871.71,212.64 1873.69,210.67 1875.66,212.64 1873.69,214.62 1875.66,216.59 1873.69,218.57 1871.71,216.59 1869.74,218.57 1867.76,216.59 1869.74,214.62 1867.76,212.64" fill="#006d77" stroke="#ff0000" stroke-width="1.45" stroke-linejoin="miter"/>
<polygon points="1871.73,220.41 1873.71,222.38 1875.68,220.41 1877.66,222.38 1875.68,224.36 1877.66,226.33 1875.68,228.31 1873.71,226.33 1871.73,228.31 1869.76,226.33 1871.73,224.36 1869.76,222.38" fill="#006d77" stroke="#ff0000" stroke-width="1.45" stroke-linejoin="miter"/>
<line x1="1814.6" y1="200.5" x2="1814.6" y2="352.48" stroke="#1a1a1a" stroke-width="1.35"/>
<line x1="1813.92" y1="351.8" x2="2025.9" y2="351.8" stroke="#1a1a1a" stroke-width="1.35"/>
<line x1="1867.4" y1="351.8" x2="1867.4" y2="356.8" stroke="#1a1a1a" stroke-width="1.25"/>
<text x="1867.4" y="371.8" font-size="15.7" text-anchor="middle">0-I</text>
<line x1="1973.1" y1="351.8" x2="1973.1" y2="356.8" stroke="#1a1a1a" stroke-width="1.25"/>
<text x="1973.1" y="371.8" font-size="15.7" text-anchor="middle">II-III</text>
<line x1="1809.6" y1="207.6" x2="1814.6" y2="207.6" stroke="#1a1a1a" stroke-width="1.25"/>
<text x="1805.2" y="213.73" font-size="15.7" text-anchor="end">0.95</text>
<line x1="1809.6" y1="253.4" x2="1814.6" y2="253.4" stroke="#1a1a1a" stroke-width="1.25"/>
<text x="1805.2" y="259.53" font-size="15.7" text-anchor="end">0.90</text>
<line x1="1809.6" y1="299.2" x2="1814.6" y2="299.2" stroke="#1a1a1a" stroke-width="1.25"/>
<text x="1805.2" y="305.33" font-size="15.7" text-anchor="end">0.85</text>
<line x1="1809.6" y1="345" x2="1814.6" y2="345" stroke="#1a1a1a" stroke-width="1.25"/>
<text x="1805.2" y="351.13" font-size="15.7" text-anchor="end">0.80</text>
<polyline points="1867.4,197.2 1867.4,193.3 1973.1,193.3 1973.1,197.2" fill="none" stroke="#2b2b2b" stroke-width="2"/>
<text x="1920.25" y="189.8" font-size="11.6" text-anchor="middle">M.W.W. p = 0.043</text>
<circle cx="1884.95" cy="446.93" r="4.4" fill="#e29578"/>
<circle cx="1891.94" cy="452.43" r="4.4" fill="#e29578"/>
<circle cx="1884.95" cy="456.67" r="4.4" fill="#e29578"/>
<circle cx="1888.44" cy="470.16" r="4.4" fill="#e29578"/>
<circle cx="1884.2" cy="485.39" r="4.4" fill="#e29578"/>
<circle cx="1883.45" cy="493.39" r="4.4" fill="#e29578"/>
<circle cx="1891.19" cy="525.85" r="4.4" fill="#e29578"/>
<circle cx="1992.84" cy="473.41" r="4.4" fill="#e29578"/>
<circle cx="1989.09" cy="483.65" r="4.4" fill="#e29578"/>
<circle cx="1990.84" cy="487.89" r="4.4" fill="#e29578"/>
<circle cx="1989.09" cy="503.63" r="4.4" fill="#e29578"/>
<circle cx="1997.08" cy="503.13" r="4.4" fill="#e29578"/>
<circle cx="1996.34" cy="511.62" r="4.4" fill="#e29578"/>
<circle cx="1996.09" cy="537.34" r="4.4" fill="#e29578"/>
<circle cx="1996.09" cy="542.84" r="4.4" fill="#e29578"/>
<circle cx="1994.34" cy="571.56" r="4.4" fill="#e29578"/>
<circle cx="1842.99" cy="434.2" r="4.4" fill="#006d77"/>
<circle cx="1842.49" cy="460.92" r="4.4" fill="#006d77"/>
<circle cx="1948.88" cy="482.9" r="4.4" fill="#006d77"/>
<circle cx="1946.39" cy="502.38" r="4.4" fill="#006d77"/>
<polygon points="1889.47,442.73 1891.44,444.71 1893.42,442.73 1895.39,444.71 1893.42,446.68 1895.39,448.66 1893.42,450.63 1891.44,448.66 1889.47,450.63 1887.49,448.66 1889.47,446.68 1887.49,444.71" fill="#e29578" stroke="#ff0000" stroke-width="1.45" stroke-linejoin="miter"/>
<polygon points="1992.11,503.42 1994.09,505.4 1996.06,503.42 1998.04,505.4 1996.06,507.37 1998.04,509.35 1996.06,511.32 1994.09,509.35 1992.11,511.32 1990.14,509.35 1992.11,507.37 1990.14,505.4" fill="#e29578" stroke="#ff0000" stroke-width="1.45" stroke-linejoin="miter"/>
<polygon points="1846.76,436.99 1848.73,438.96 1850.71,436.99 1852.68,438.96 1850.71,440.94 1852.68,442.91 1850.71,444.89 1848.73,442.91 1846.76,444.89 1844.78,442.91 1846.76,440.94 1844.78,438.96" fill="#006d77" stroke="#ff0000" stroke-width="1.45" stroke-linejoin="miter"/>
<polygon points="1947.91,446.98 1949.88,448.95 1951.86,446.98 1953.83,448.95 1951.86,450.93 1953.83,452.9 1951.86,454.88 1949.88,452.9 1947.91,454.88 1945.93,452.9 1947.91,450.93 1945.93,448.95" fill="#006d77" stroke="#ff0000" stroke-width="1.45" stroke-linejoin="miter"/>
<line x1="1814.6" y1="427.1" x2="1814.6" y2="579.07" stroke="#1a1a1a" stroke-width="1.35"/>
<line x1="1813.92" y1="578.4" x2="2025.9" y2="578.4" stroke="#1a1a1a" stroke-width="1.35"/>
<line x1="1867.4" y1="578.4" x2="1867.4" y2="583.4" stroke="#1a1a1a" stroke-width="1.25"/>
<text transform="translate(1872.2 586.2) rotate(-90)" font-size="15.7" text-anchor="end">Chemo-&gt;ICI</text>
<line x1="1973.1" y1="578.4" x2="1973.1" y2="583.4" stroke="#1a1a1a" stroke-width="1.25"/>
<text transform="translate(1977.9 586.2) rotate(-90)" font-size="15.7" text-anchor="end">ICI-&gt;Chemo</text>
<line x1="1809.6" y1="434.2" x2="1814.6" y2="434.2" stroke="#1a1a1a" stroke-width="1.25"/>
<text x="1805.2" y="440.33" font-size="15.7" text-anchor="end">0.95</text>
<line x1="1809.6" y1="480" x2="1814.6" y2="480" stroke="#1a1a1a" stroke-width="1.25"/>
<text x="1805.2" y="486.13" font-size="15.7" text-anchor="end">0.90</text>
<line x1="1809.6" y1="525.8" x2="1814.6" y2="525.8" stroke="#1a1a1a" stroke-width="1.25"/>
<text x="1805.2" y="531.93" font-size="15.7" text-anchor="end">0.85</text>
<line x1="1809.6" y1="571.6" x2="1814.6" y2="571.6" stroke="#1a1a1a" stroke-width="1.25"/>
<text x="1805.2" y="577.73" font-size="15.7" text-anchor="end">0.80</text>
<polyline points="1846.25,423.6 1846.25,419.9 1888.55,419.9 1888.55,423.6" fill="none" stroke="#2b2b2b" stroke-width="2"/>
<text x="1867.4" y="415.8" font-size="11.6" text-anchor="middle">M.W.W. p = 0.15</text>
<polyline points="1951.95,423.6 1951.95,419.9 1994.25,419.9 1994.25,423.6" fill="none" stroke="#2b2b2b" stroke-width="2"/>
<text x="1973.1" y="415.8" font-size="11.6" text-anchor="middle">M.W.W. p = 0.077</text>
<text transform="translate(939.3 276.15) rotate(-90)" font-size="15.9" text-anchor="middle">Single sample GSEA score</text>
<text transform="translate(939.3 502.75) rotate(-90)" font-size="15.9" text-anchor="middle">Single sample GSEA score</text>
<!-- panel C -->
<text transform="translate(518.8 851.9) scale(1 1.0350)" font-size="17.8" text-anchor="middle">Baseline</text>
<circle cx="70" cy="883.2" r="6.9" fill="#006d77"/>
<circle cx="70" cy="905.3" r="6.9" fill="#e29578"/>
<polygon points="67.35,922.4 70,925.05 72.65,922.4 75.3,925.05 72.65,927.7 75.3,930.35 72.65,933 70,930.35 67.35,933 64.7,930.35 67.35,927.7 64.7,925.05" fill="#e29578" stroke="#ff0000" stroke-width="1.8" stroke-linejoin="miter"/>
<text transform="translate(96.5 887.5) scale(1 1.0350)" font-size="15">0-I</text>
<text transform="translate(96.5 909.6) scale(1 1.0350)" font-size="15">II-III</text>
<text transform="translate(96.5 931.8) scale(1 1.0350)" font-size="15">HR low</text>
<text x="340.3" y="911.8" font-size="21" text-anchor="middle">Estrogen Response Early</text>
<line x1="267.6" y1="1052.5" x2="267.6" y2="1078.9" stroke="#999999" stroke-width="2.5"/>
<line x1="267.6" y1="1144.4" x2="267.6" y2="1170.3" stroke="#999999" stroke-width="2.5"/>
<line x1="237.58" y1="1052.5" x2="297.62" y2="1052.5" stroke="#999999" stroke-width="2.5"/>
<line x1="237.58" y1="1170.3" x2="297.62" y2="1170.3" stroke="#999999" stroke-width="2.5"/>
<rect x="209.3" y="1078.9" width="116.6" height="65.5" fill="#fff" stroke="#999999" stroke-width="2.5"/>
<line x1="209.3" y1="1127.6" x2="325.9" y2="1127.6" stroke="#999999" stroke-width="2.5"/>
<line x1="413.15" y1="989.3" x2="413.15" y2="1016" stroke="#999999" stroke-width="2.5"/>
<line x1="413.15" y1="1072.2" x2="413.15" y2="1142.1" stroke="#999999" stroke-width="2.5"/>
<line x1="383" y1="989.3" x2="443.3" y2="989.3" stroke="#999999" stroke-width="2.5"/>
<line x1="383" y1="1142.1" x2="443.3" y2="1142.1" stroke="#999999" stroke-width="2.5"/>
<rect x="354.6" y="1016" width="117.1" height="56.2" fill="#fff" stroke="#999999" stroke-width="2.5"/>
<line x1="354.6" y1="1047.7" x2="471.7" y2="1047.7" stroke="#999999" stroke-width="2.5"/>
<circle cx="413.34" cy="989.27" r="5.25" fill="#e29578"/>
<circle cx="414.59" cy="1007.75" r="5.25" fill="#e29578"/>
<circle cx="421.58" cy="1011" r="5.25" fill="#e29578"/>
<circle cx="398.35" cy="1015.49" r="5.25" fill="#e29578"/>
<circle cx="412.59" cy="1016.49" r="5.25" fill="#e29578"/>
<circle cx="415.08" cy="1025.98" r="5.25" fill="#e29578"/>
<circle cx="408.84" cy="1032.48" r="5.25" fill="#e29578"/>
<circle cx="422.58" cy="1044.72" r="5.25" fill="#e29578"/>
<circle cx="403.85" cy="1047.21" r="5.25" fill="#e29578"/>
<circle cx="400.85" cy="1050.96" r="5.25" fill="#e29578"/>
<circle cx="403.35" cy="1057.2" r="5.25" fill="#e29578"/>
<circle cx="420.08" cy="1061.45" r="5.25" fill="#e29578"/>
<circle cx="401.35" cy="1067.69" r="5.25" fill="#e29578"/>
<circle cx="407.84" cy="1077.68" r="5.25" fill="#e29578"/>
<circle cx="425.57" cy="1100.16" r="5.25" fill="#e29578"/>
<circle cx="276.22" cy="1052.71" r="5.25" fill="#006d77"/>
<circle cx="274.98" cy="1066.69" r="5.25" fill="#006d77"/>
<circle cx="257.49" cy="1146.61" r="5.25" fill="#006d77"/>
<circle cx="261.74" cy="1170.59" r="5.25" fill="#006d77"/>
<polygon points="412.29,1091.06 414.84,1093.61 417.39,1091.06 419.94,1093.61 417.39,1096.16 419.94,1098.71 417.39,1101.26 414.84,1098.71 412.29,1101.26 409.74,1098.71 412.29,1096.16 409.74,1093.61" fill="#e29578" stroke="#ff0000" stroke-width="1.8" stroke-linejoin="miter"/>
<polygon points="409.29,1137.27 411.84,1139.82 414.39,1137.27 416.94,1139.82 414.39,1142.37 416.94,1144.92 414.39,1147.47 411.84,1144.92 409.29,1147.47 406.74,1144.92 409.29,1142.37 406.74,1139.82" fill="#e29578" stroke="#ff0000" stroke-width="1.8" stroke-linejoin="miter"/>
<polygon points="263.18,1112.04 265.73,1114.59 268.28,1112.04 270.83,1114.59 268.28,1117.14 270.83,1119.69 268.28,1122.24 265.73,1119.69 263.18,1122.24 260.63,1119.69 263.18,1117.14 260.63,1114.59" fill="#006d77" stroke="#ff0000" stroke-width="1.8" stroke-linejoin="miter"/>
<polygon points="269.43,1133.77 271.98,1136.32 274.53,1133.77 277.08,1136.32 274.53,1138.87 277.08,1141.42 274.53,1143.97 271.98,1141.42 269.43,1143.97 266.88,1141.42 269.43,1138.87 266.88,1136.32" fill="#006d77" stroke="#ff0000" stroke-width="1.8" stroke-linejoin="miter"/>
<line x1="194.8" y1="979.8" x2="194.8" y2="1180.45" stroke="#1c1c1c" stroke-width="1.7"/>
<line x1="193.95" y1="1179.6" x2="485.8" y2="1179.6" stroke="#1c1c1c" stroke-width="1.7"/>
<line x1="267.6" y1="1179.6" x2="267.6" y2="1185.4" stroke="#1c1c1c" stroke-width="1.6"/>
<text transform="translate(267.6 1205.6) scale(1 1.0350)" font-size="20.3" text-anchor="middle">0-I</text>
<line x1="412.9" y1="1179.6" x2="412.9" y2="1185.4" stroke="#1c1c1c" stroke-width="1.6"/>
<text transform="translate(412.9 1205.6) scale(1 1.0350)" font-size="20.3" text-anchor="middle">II-III</text>
<line x1="189" y1="1020.2" x2="194.8" y2="1020.2" stroke="#1c1c1c" stroke-width="1.6"/>
<text transform="translate(182.8 1028.37) scale(1 1.0350)" font-size="20.3" text-anchor="end">0.95</text>
<line x1="189" y1="1080.8" x2="194.8" y2="1080.8" stroke="#1c1c1c" stroke-width="1.6"/>
<text transform="translate(182.8 1088.97) scale(1 1.0350)" font-size="20.3" text-anchor="end">0.90</text>
<line x1="189" y1="1141.4" x2="194.8" y2="1141.4" stroke="#1c1c1c" stroke-width="1.6"/>
<text transform="translate(182.8 1149.57) scale(1 1.0350)" font-size="20.3" text-anchor="end">0.85</text>
<polyline points="267.6,975.6 267.6,971 412.9,971 412.9,975.6" fill="none" stroke="#2b2b2b" stroke-width="2.5"/>
<text transform="translate(340.25 966) scale(1 1.0350)" font-size="15" text-anchor="middle">M.W.W. p = 0.0072</text>
<circle cx="291.46" cy="1310.41" r="5.25" fill="#e29578"/>
<circle cx="301.95" cy="1306.91" r="5.25" fill="#e29578"/>
<circle cx="291.21" cy="1324.9" r="5.25" fill="#e29578"/>
<circle cx="297.2" cy="1331.89" r="5.25" fill="#e29578"/>
<circle cx="296.2" cy="1366.85" r="5.25" fill="#e29578"/>
<circle cx="292.71" cy="1377.09" r="5.25" fill="#e29578"/>
<circle cx="303.2" cy="1396.07" r="5.25" fill="#e29578"/>
<circle cx="295.2" cy="1399.07" r="5.25" fill="#e29578"/>
<circle cx="441.06" cy="1288.68" r="5.25" fill="#e29578"/>
<circle cx="443.81" cy="1311.91" r="5.25" fill="#e29578"/>
<circle cx="442.56" cy="1314.41" r="5.25" fill="#e29578"/>
<circle cx="437.56" cy="1315.65" r="5.25" fill="#e29578"/>
<circle cx="445.05" cy="1343.63" r="5.25" fill="#e29578"/>
<circle cx="448.3" cy="1347.62" r="5.25" fill="#e29578"/>
<circle cx="440.81" cy="1349.87" r="5.25" fill="#e29578"/>
<circle cx="441.56" cy="1356.11" r="5.25" fill="#e29578"/>
<circle cx="441.56" cy="1360.61" r="5.25" fill="#e29578"/>
<circle cx="233.02" cy="1365.85" r="5.25" fill="#006d77"/>
<circle cx="239.51" cy="1446.02" r="5.25" fill="#006d77"/>
<circle cx="387.86" cy="1352.12" r="5.25" fill="#006d77"/>
<circle cx="379.37" cy="1470" r="5.25" fill="#006d77"/>
<polygon points="296.15,1436.43 298.7,1438.98 301.25,1436.43 303.8,1438.98 301.25,1441.53 303.8,1444.08 301.25,1446.63 298.7,1444.08 296.15,1446.63 293.6,1444.08 296.15,1441.53 293.6,1438.98" fill="#e29578" stroke="#ff0000" stroke-width="1.8" stroke-linejoin="miter"/>
<polygon points="444.5,1389.97 447.05,1392.52 449.6,1389.97 452.15,1392.52 449.6,1395.07 452.15,1397.62 449.6,1400.17 447.05,1397.62 444.5,1400.17 441.95,1397.62 444.5,1395.07 441.95,1392.52" fill="#e29578" stroke="#ff0000" stroke-width="1.8" stroke-linejoin="miter"/>
<polygon points="242.21,1411.45 244.76,1414 247.31,1411.45 249.86,1414 247.31,1416.55 249.86,1419.1 247.31,1421.65 244.76,1419.1 242.21,1421.65 239.66,1419.1 242.21,1416.55 239.66,1414" fill="#006d77" stroke="#ff0000" stroke-width="1.8" stroke-linejoin="miter"/>
<polygon points="379.57,1432.93 382.12,1435.48 384.67,1432.93 387.22,1435.48 384.67,1438.03 387.22,1440.58 384.67,1443.13 382.12,1440.58 379.57,1443.13 377.02,1440.58 379.57,1438.03 377.02,1435.48" fill="#006d77" stroke="#ff0000" stroke-width="1.8" stroke-linejoin="miter"/>
<line x1="194.8" y1="1279.3" x2="194.8" y2="1479.95" stroke="#1c1c1c" stroke-width="1.7"/>
<line x1="193.95" y1="1479.1" x2="485.8" y2="1479.1" stroke="#1c1c1c" stroke-width="1.7"/>
<line x1="267.6" y1="1479.1" x2="267.6" y2="1484.9" stroke="#1c1c1c" stroke-width="1.6"/>
<text transform="translate(273.8 1489) rotate(-90) scale(1 0.9660)" font-size="21" text-anchor="end">Chemo-&gt;ICI</text>
<line x1="412.9" y1="1479.1" x2="412.9" y2="1484.9" stroke="#1c1c1c" stroke-width="1.6"/>
<text transform="translate(419.1 1489) rotate(-90) scale(1 0.9660)" font-size="21" text-anchor="end">ICI-&gt;Chemo</text>
<line x1="189" y1="1319.7" x2="194.8" y2="1319.7" stroke="#1c1c1c" stroke-width="1.6"/>
<text transform="translate(182.8 1327.87) scale(1 1.0350)" font-size="20.3" text-anchor="end">0.95</text>
<line x1="189" y1="1380.3" x2="194.8" y2="1380.3" stroke="#1c1c1c" stroke-width="1.6"/>
<text transform="translate(182.8 1388.47) scale(1 1.0350)" font-size="20.3" text-anchor="end">0.90</text>
<line x1="189" y1="1440.9" x2="194.8" y2="1440.9" stroke="#1c1c1c" stroke-width="1.6"/>
<text transform="translate(182.8 1449.07) scale(1 1.0350)" font-size="20.3" text-anchor="end">0.85</text>
<polyline points="238.45,1274.8 238.45,1270.3 296.75,1270.3 296.75,1274.8" fill="none" stroke="#2b2b2b" stroke-width="2.5"/>
<text transform="translate(267.6 1265.5) scale(1 1.0350)" font-size="15" text-anchor="middle">M.W.W. p = 0.21</text>
<polyline points="383.75,1274.8 383.75,1270.3 442.05,1270.3 442.05,1274.8" fill="none" stroke="#2b2b2b" stroke-width="2.5"/>
<text transform="translate(412.9 1265.5) scale(1 1.0350)" font-size="15" text-anchor="middle">M.W.W. p = 0.049</text>
<text x="718.4" y="911.8" font-size="21" text-anchor="middle">Estrogen Response Late</text>
<line x1="645.95" y1="1046.2" x2="645.95" y2="1056" stroke="#999999" stroke-width="2.5"/>
<line x1="645.95" y1="1112.1" x2="645.95" y2="1170.6" stroke="#999999" stroke-width="2.5"/>
<line x1="615.8" y1="1046.2" x2="676.1" y2="1046.2" stroke="#999999" stroke-width="2.5"/>
<line x1="615.8" y1="1170.6" x2="676.1" y2="1170.6" stroke="#999999" stroke-width="2.5"/>
<rect x="587.4" y="1056" width="117.1" height="56.1" fill="#fff" stroke="#999999" stroke-width="2.5"/>
<line x1="587.4" y1="1092.4" x2="704.5" y2="1092.4" stroke="#999999" stroke-width="2.5"/>
<line x1="791.65" y1="989.3" x2="791.65" y2="1014.2" stroke="#999999" stroke-width="2.5"/>
<line x1="791.65" y1="1055" x2="791.65" y2="1102.2" stroke="#999999" stroke-width="2.5"/>
<line x1="761.55" y1="989.3" x2="821.75" y2="989.3" stroke="#999999" stroke-width="2.5"/>
<line x1="761.55" y1="1102.2" x2="821.75" y2="1102.2" stroke="#999999" stroke-width="2.5"/>
<rect x="733.2" y="1014.2" width="116.9" height="40.8" fill="#fff" stroke="#999999" stroke-width="2.5"/>
<line x1="733.2" y1="1035.7" x2="850.1" y2="1035.7" stroke="#999999" stroke-width="2.5"/>
<circle cx="781.66" cy="989.27" r="5.25" fill="#e29578"/>
<circle cx="776.66" cy="997.26" r="5.25" fill="#e29578"/>
<circle cx="798.89" cy="998.26" r="5.25" fill="#e29578"/>
<circle cx="804.14" cy="998.76" r="5.25" fill="#e29578"/>
<circle cx="798.39" cy="1011" r="5.25" fill="#e29578"/>
<circle cx="780.41" cy="1016.99" r="5.25" fill="#e29578"/>
<circle cx="790.65" cy="1025.23" r="5.25" fill="#e29578"/>
<circle cx="804.89" cy="1026.23" r="5.25" fill="#e29578"/>
<circle cx="799.64" cy="1034.23" r="5.25" fill="#e29578"/>
<circle cx="803.39" cy="1036.72" r="5.25" fill="#e29578"/>
<circle cx="785.9" cy="1043.22" r="5.25" fill="#e29578"/>
<circle cx="798.39" cy="1042.72" r="5.25" fill="#e29578"/>
<circle cx="801.64" cy="1040.22" r="5.25" fill="#e29578"/>
<circle cx="790.65" cy="1055.7" r="5.25" fill="#e29578"/>
<circle cx="797.64" cy="1054.46" r="5.25" fill="#e29578"/>
<circle cx="781.66" cy="1077.43" r="5.25" fill="#e29578"/>
<circle cx="799.39" cy="1074.44" r="5.25" fill="#e29578"/>
<circle cx="648.04" cy="1046.46" r="5.25" fill="#006d77"/>
<circle cx="659.78" cy="1046.71" r="5.25" fill="#006d77"/>
<circle cx="637.55" cy="1101.66" r="5.25" fill="#006d77"/>
<circle cx="653.29" cy="1170.59" r="5.25" fill="#006d77"/>
<polygon points="787.6,1069.09 790.15,1071.64 792.7,1069.09 795.25,1071.64 792.7,1074.19 795.25,1076.74 792.7,1079.29 790.15,1076.74 787.6,1079.29 785.05,1076.74 787.6,1074.19 785.05,1071.64" fill="#e29578" stroke="#ff0000" stroke-width="1.8" stroke-linejoin="miter"/>
<polygon points="789.1,1097.31 791.65,1099.86 794.2,1097.31 796.75,1099.86 794.2,1102.41 796.75,1104.96 794.2,1107.51 791.65,1104.96 789.1,1107.51 786.55,1104.96 789.1,1102.41 786.55,1099.86" fill="#e29578" stroke="#ff0000" stroke-width="1.8" stroke-linejoin="miter"/>
<polygon points="631.26,1078.33 633.81,1080.88 636.36,1078.33 638.91,1080.88 636.36,1083.43 638.91,1085.98 636.36,1088.53 633.81,1085.98 631.26,1088.53 628.71,1085.98 631.26,1083.43 628.71,1080.88" fill="#006d77" stroke="#ff0000" stroke-width="1.8" stroke-linejoin="miter"/>
<polygon points="633.5,1110.79 636.05,1113.34 638.6,1110.79 641.15,1113.34 638.6,1115.89 641.15,1118.44 638.6,1120.99 636.05,1118.44 633.5,1120.99 630.95,1118.44 633.5,1115.89 630.95,1113.34" fill="#006d77" stroke="#ff0000" stroke-width="1.8" stroke-linejoin="miter"/>
<line x1="572.9" y1="979.8" x2="572.9" y2="1180.45" stroke="#1c1c1c" stroke-width="1.7"/>
<line x1="572.05" y1="1179.6" x2="863.9" y2="1179.6" stroke="#1c1c1c" stroke-width="1.7"/>
<line x1="645.7" y1="1179.6" x2="645.7" y2="1185.4" stroke="#1c1c1c" stroke-width="1.6"/>
<text transform="translate(645.7 1205.6) scale(1 1.0350)" font-size="20.3" text-anchor="middle">0-I</text>
<line x1="791" y1="1179.6" x2="791" y2="1185.4" stroke="#1c1c1c" stroke-width="1.6"/>
<text transform="translate(791 1205.6) scale(1 1.0350)" font-size="20.3" text-anchor="middle">II-III</text>
<line x1="567.1" y1="996" x2="572.9" y2="996" stroke="#1c1c1c" stroke-width="1.6"/>
<text transform="translate(560.9 1004.17) scale(1 1.0350)" font-size="20.3" text-anchor="end">0.95</text>
<line x1="567.1" y1="1053.2" x2="572.9" y2="1053.2" stroke="#1c1c1c" stroke-width="1.6"/>
<text transform="translate(560.9 1061.37) scale(1 1.0350)" font-size="20.3" text-anchor="end">0.90</text>
<line x1="567.1" y1="1110.4" x2="572.9" y2="1110.4" stroke="#1c1c1c" stroke-width="1.6"/>
<text transform="translate(560.9 1118.57) scale(1 1.0350)" font-size="20.3" text-anchor="end">0.85</text>
<line x1="567.1" y1="1167.6" x2="572.9" y2="1167.6" stroke="#1c1c1c" stroke-width="1.6"/>
<text transform="translate(560.9 1175.77) scale(1 1.0350)" font-size="20.3" text-anchor="end">0.80</text>
<polyline points="645.7,975.6 645.7,971 791,971 791,975.6" fill="none" stroke="#2b2b2b" stroke-width="2.5"/>
<text transform="translate(718.35 966) scale(1 1.0350)" font-size="15" text-anchor="middle">M.W.W. p = 0.0044</text>
<circle cx="668.27" cy="1297.92" r="5.25" fill="#e29578"/>
<circle cx="676.76" cy="1310.41" r="5.25" fill="#e29578"/>
<circle cx="676.26" cy="1324.65" r="5.25" fill="#e29578"/>
<circle cx="674.02" cy="1333.64" r="5.25" fill="#e29578"/>
<circle cx="671.52" cy="1339.38" r="5.25" fill="#e29578"/>
<circle cx="675.76" cy="1341.88" r="5.25" fill="#e29578"/>
<circle cx="670.27" cy="1372.85" r="5.25" fill="#e29578"/>
<circle cx="669.02" cy="1377.09" r="5.25" fill="#e29578"/>
<circle cx="815.62" cy="1288.68" r="5.25" fill="#e29578"/>
<circle cx="813.63" cy="1297.67" r="5.25" fill="#e29578"/>
<circle cx="819.87" cy="1316.4" r="5.25" fill="#e29578"/>
<circle cx="817.12" cy="1325.39" r="5.25" fill="#e29578"/>
<circle cx="827.61" cy="1335.63" r="5.25" fill="#e29578"/>
<circle cx="821.62" cy="1342.63" r="5.25" fill="#e29578"/>
<circle cx="813.88" cy="1355.11" r="5.25" fill="#e29578"/>
<circle cx="824.37" cy="1353.87" r="5.25" fill="#e29578"/>
<circle cx="622.32" cy="1345.87" r="5.25" fill="#006d77"/>
<circle cx="618.32" cy="1401.07" r="5.25" fill="#006d77"/>
<circle cx="755.43" cy="1345.62" r="5.25" fill="#006d77"/>
<circle cx="762.43" cy="1470" r="5.25" fill="#006d77"/>
<polygon points="672.46,1396.72 675.01,1399.27 677.56,1396.72 680.11,1399.27 677.56,1401.82 680.11,1404.37 677.56,1406.92 675.01,1404.37 672.46,1406.92 669.91,1404.37 672.46,1401.82 669.91,1399.27" fill="#e29578" stroke="#ff0000" stroke-width="1.8" stroke-linejoin="miter"/>
<polygon points="820.32,1368.5 822.87,1371.05 825.42,1368.5 827.97,1371.05 825.42,1373.6 827.97,1376.15 825.42,1378.7 822.87,1376.15 820.32,1378.7 817.77,1376.15 820.32,1373.6 817.77,1371.05" fill="#e29578" stroke="#ff0000" stroke-width="1.8" stroke-linejoin="miter"/>
<polygon points="608.78,1377.74 611.33,1380.29 613.88,1377.74 616.43,1380.29 613.88,1382.84 616.43,1385.39 613.88,1387.94 611.33,1385.39 608.78,1387.94 606.23,1385.39 608.78,1382.84 606.23,1380.29" fill="#006d77" stroke="#ff0000" stroke-width="1.8" stroke-linejoin="miter"/>
<polygon points="760.88,1409.95 763.43,1412.5 765.98,1409.95 768.53,1412.5 765.98,1415.05 768.53,1417.6 765.98,1420.15 763.43,1417.6 760.88,1420.15 758.33,1417.6 760.88,1415.05 758.33,1412.5" fill="#006d77" stroke="#ff0000" stroke-width="1.8" stroke-linejoin="miter"/>
<line x1="572.9" y1="1279.3" x2="572.9" y2="1479.95" stroke="#1c1c1c" stroke-width="1.7"/>
<line x1="572.05" y1="1479.1" x2="863.9" y2="1479.1" stroke="#1c1c1c" stroke-width="1.7"/>
<line x1="645.7" y1="1479.1" x2="645.7" y2="1484.9" stroke="#1c1c1c" stroke-width="1.6"/>
<text transform="translate(651.9 1489) rotate(-90) scale(1 0.9660)" font-size="21" text-anchor="end">Chemo-&gt;ICI</text>
<line x1="791" y1="1479.1" x2="791" y2="1484.9" stroke="#1c1c1c" stroke-width="1.6"/>
<text transform="translate(797.2 1489) rotate(-90) scale(1 0.9660)" font-size="21" text-anchor="end">ICI-&gt;Chemo</text>
<line x1="567.1" y1="1295.5" x2="572.9" y2="1295.5" stroke="#1c1c1c" stroke-width="1.6"/>
<text transform="translate(560.9 1303.67) scale(1 1.0350)" font-size="20.3" text-anchor="end">0.95</text>
<line x1="567.1" y1="1352.7" x2="572.9" y2="1352.7" stroke="#1c1c1c" stroke-width="1.6"/>
<text transform="translate(560.9 1360.87) scale(1 1.0350)" font-size="20.3" text-anchor="end">0.90</text>
<line x1="567.1" y1="1409.9" x2="572.9" y2="1409.9" stroke="#1c1c1c" stroke-width="1.6"/>
<text transform="translate(560.9 1418.07) scale(1 1.0350)" font-size="20.3" text-anchor="end">0.85</text>
<line x1="567.1" y1="1467.1" x2="572.9" y2="1467.1" stroke="#1c1c1c" stroke-width="1.6"/>
<text transform="translate(560.9 1475.27) scale(1 1.0350)" font-size="20.3" text-anchor="end">0.80</text>
<polyline points="616.55,1274.8 616.55,1270.3 674.85,1270.3 674.85,1274.8" fill="none" stroke="#2b2b2b" stroke-width="2.5"/>
<text transform="translate(645.7 1265.5) scale(1 1.0350)" font-size="15" text-anchor="middle">M.W.W. p = 0.15</text>
<polyline points="761.85,1274.8 761.85,1270.3 820.15,1270.3 820.15,1274.8" fill="none" stroke="#2b2b2b" stroke-width="2.5"/>
<text transform="translate(791 1265.5) scale(1 1.0350)" font-size="15" text-anchor="middle">M.W.W. p = 0.049</text>
<text transform="translate(127.4 1079.7) rotate(-90) scale(1 0.9660)" font-size="21" text-anchor="middle">Single sample GSEA score</text>
<text transform="translate(127.4 1379.2) rotate(-90) scale(1 0.9660)" font-size="21" text-anchor="middle">Single sample GSEA score</text>
<!-- panel D -->
<line x1="1493.2" y1="938.6" x2="1493.2" y2="1498.7" stroke="#808080" stroke-width="3.25" stroke-dasharray="11.2 4.85"/>
<line x1="1122.6" y1="1235.3" x2="1802.3" y2="1235.3" stroke="#808080" stroke-width="3.25" stroke-dasharray="11.2 4.85"/>
<circle cx="1245.7" cy="961.3" r="5.4" fill="#e29578"/>
<circle cx="1356.6" cy="1074.9" r="5.4" fill="#e29578"/>
<circle cx="1421.8" cy="1173.6" r="5.4" fill="#e29578"/>
<circle cx="1153.3" cy="1199.3" r="5.4" fill="#e29578"/>
<circle cx="1377.9" cy="1219" r="5.4" fill="#e29578"/>
<circle cx="1458.9" cy="997.9" r="5.4" fill="#e29578"/>
<circle cx="1542.1" cy="1018.9" r="5.4" fill="#e29578"/>
<circle cx="1489.7" cy="1029.4" r="5.4" fill="#e29578"/>
<circle cx="1727.7" cy="1105.3" r="5.4" fill="#e29578"/>
<circle cx="1530.1" cy="1153.7" r="5.4" fill="#e29578"/>
<circle cx="1477.9" cy="1195.2" r="5.4" fill="#e29578"/>
<circle cx="1513.1" cy="1217.7" r="5.4" fill="#e29578"/>
<circle cx="1412" cy="1247.7" r="5.4" fill="#e29578"/>
<circle cx="1566.1" cy="1249.9" r="5.4" fill="#e29578"/>
<circle cx="1525.1" cy="1277.9" r="5.4" fill="#e29578"/>
<circle cx="1452.4" cy="1323.8" r="5.4" fill="#e29578"/>
<circle cx="1200.5" cy="1258.7" r="5.4" fill="#e29578"/>
<circle cx="1584.6" cy="1407.5" r="5.4" fill="#e29578"/>
<circle cx="1664.7" cy="1455.2" r="5.4" fill="#e29578"/>
<circle cx="1516.1" cy="1244.9" r="5.4" fill="#006d77"/>
<circle cx="1638" cy="1272.9" r="5.4" fill="#006d77"/>
<circle cx="1357.9" cy="1453.7" r="5.4" fill="#006d77"/>
<circle cx="1674.5" cy="1408" r="5.4" fill="#006d77"/>
<circle cx="1664.2" cy="1471.2" r="5.4" fill="#006d77"/>
<circle cx="1771.6" cy="1473.5" r="5.4" fill="#006d77"/>
<line x1="1122.6" y1="935.3" x2="1122.6" y2="1499.5" stroke="#000" stroke-width="1.6"/>
<line x1="1121.8" y1="1498.7" x2="1803.3" y2="1498.7" stroke="#000" stroke-width="1.6"/>
<line x1="1176.6" y1="1498.7" x2="1176.6" y2="1505.3" stroke="#000" stroke-width="1.6"/>
<text x="1176.6" y="1529" font-size="20.4" text-anchor="middle">2.8</text>
<line x1="1258.29" y1="1498.7" x2="1258.29" y2="1505.3" stroke="#000" stroke-width="1.6"/>
<text x="1258.29" y="1529" font-size="20.4" text-anchor="middle">2.9</text>
<line x1="1339.98" y1="1498.7" x2="1339.98" y2="1505.3" stroke="#000" stroke-width="1.6"/>
<text x="1339.98" y="1529" font-size="20.4" text-anchor="middle">3.0</text>
<line x1="1421.67" y1="1498.7" x2="1421.67" y2="1505.3" stroke="#000" stroke-width="1.6"/>
<text x="1421.67" y="1529" font-size="20.4" text-anchor="middle">3.1</text>
<line x1="1503.36" y1="1498.7" x2="1503.36" y2="1505.3" stroke="#000" stroke-width="1.6"/>
<text x="1503.36" y="1529" font-size="20.4" text-anchor="middle">3.2</text>
<line x1="1585.05" y1="1498.7" x2="1585.05" y2="1505.3" stroke="#000" stroke-width="1.6"/>
<text x="1585.05" y="1529" font-size="20.4" text-anchor="middle">3.3</text>
<line x1="1666.74" y1="1498.7" x2="1666.74" y2="1505.3" stroke="#000" stroke-width="1.6"/>
<text x="1666.74" y="1529" font-size="20.4" text-anchor="middle">3.4</text>
<line x1="1748.43" y1="1498.7" x2="1748.43" y2="1505.3" stroke="#000" stroke-width="1.6"/>
<text x="1748.43" y="1529" font-size="20.4" text-anchor="middle">3.5</text>
<line x1="1116" y1="994.8" x2="1122.6" y2="994.8" stroke="#000" stroke-width="1.6"/>
<text x="1108.6" y="1002.85" font-size="20.4" text-anchor="end">4.9</text>
<line x1="1116" y1="1061.97" x2="1122.6" y2="1061.97" stroke="#000" stroke-width="1.6"/>
<text x="1108.6" y="1070.02" font-size="20.4" text-anchor="end">4.8</text>
<line x1="1116" y1="1129.14" x2="1122.6" y2="1129.14" stroke="#000" stroke-width="1.6"/>
<text x="1108.6" y="1137.19" font-size="20.4" text-anchor="end">4.7</text>
<line x1="1116" y1="1196.31" x2="1122.6" y2="1196.31" stroke="#000" stroke-width="1.6"/>
<text x="1108.6" y="1204.36" font-size="20.4" text-anchor="end">4.6</text>
<line x1="1116" y1="1263.48" x2="1122.6" y2="1263.48" stroke="#000" stroke-width="1.6"/>
<text x="1108.6" y="1271.53" font-size="20.4" text-anchor="end">4.5</text>
<line x1="1116" y1="1330.65" x2="1122.6" y2="1330.65" stroke="#000" stroke-width="1.6"/>
<text x="1108.6" y="1338.7" font-size="20.4" text-anchor="end">4.4</text>
<line x1="1116" y1="1397.82" x2="1122.6" y2="1397.82" stroke="#000" stroke-width="1.6"/>
<text x="1108.6" y="1405.87" font-size="20.4" text-anchor="end">4.3</text>
<line x1="1116" y1="1464.99" x2="1122.6" y2="1464.99" stroke="#000" stroke-width="1.6"/>
<text x="1108.6" y="1473.04" font-size="20.4" text-anchor="end">4.2</text>
<text x="1462.6" y="1556.5" font-size="20.4" text-anchor="middle">Antigen processing and presentation_ssGSEA</text>
<text transform="translate(1064 1217) rotate(-90)" font-size="20.4" text-anchor="middle">Estrogen signaling pathway_ssGSEA</text>
<circle cx="1837.8" cy="1057.4" r="7.2" fill="#006d77"/>
<circle cx="1837.8" cy="1087.4" r="7.2" fill="#e29578"/>
<text x="1874.2" y="1062.8" font-size="20.4">0-I</text>
<text x="1874.2" y="1092.8" font-size="20.4">II-III</text>
<!-- panel E -->
<text transform="translate(618.4 1789.4) scale(1 1.0800)" font-size="17.6" text-anchor="middle">Baseline</text>
<circle cx="30.7" cy="1822.6" r="6.7" fill="#006d77"/>
<circle cx="30.7" cy="1845.4" r="6.7" fill="#e29578"/>
<polygon points="28.1,1863.2 30.7,1865.8 33.3,1863.2 35.9,1865.8 33.3,1868.4 35.9,1871 33.3,1873.6 30.7,1871 28.1,1873.6 25.5,1871 28.1,1868.4 25.5,1865.8" fill="#e29578" stroke="#ff0000" stroke-width="1.8" stroke-linejoin="miter"/>
<text transform="translate(57.2 1826.7) scale(1 1.0800)" font-size="14.6">0-I</text>
<text transform="translate(57.2 1849.7) scale(1 1.0800)" font-size="14.6">II-III</text>
<text transform="translate(57.2 1872.8) scale(1 1.0800)" font-size="14.6">HR low</text>
<text transform="translate(281.8 1851.8) scale(1 1.0800)" font-size="17.4" text-anchor="middle">T cell CD8+</text>
<line x1="214.15" y1="1935.7" x2="214.15" y2="1957" stroke="#999999" stroke-width="2.4"/>
<line x1="214.15" y1="2042.6" x2="214.15" y2="2058.1" stroke="#999999" stroke-width="2.4"/>
<line x1="186.16" y1="1935.7" x2="242.14" y2="1935.7" stroke="#999999" stroke-width="2.4"/>
<line x1="186.16" y1="2058.1" x2="242.14" y2="2058.1" stroke="#999999" stroke-width="2.4"/>
<rect x="159.8" y="1957" width="108.7" height="85.6" fill="#fff" stroke="#999999" stroke-width="2.4"/>
<line x1="159.8" y1="2023.9" x2="268.5" y2="2023.9" stroke="#999999" stroke-width="2.4"/>
<line x1="349.65" y1="2025.7" x2="349.65" y2="2060.1" stroke="#999999" stroke-width="2.4"/>
<line x1="349.65" y1="2099.6" x2="349.65" y2="2122.1" stroke="#999999" stroke-width="2.4"/>
<line x1="321.61" y1="2025.7" x2="377.69" y2="2025.7" stroke="#999999" stroke-width="2.4"/>
<line x1="321.61" y1="2122.1" x2="377.69" y2="2122.1" stroke="#999999" stroke-width="2.4"/>
<rect x="295.2" y="2060.1" width="108.9" height="39.5" fill="#fff" stroke="#999999" stroke-width="2.4"/>
<line x1="295.2" y1="2077.6" x2="404.1" y2="2077.6" stroke="#999999" stroke-width="2.4"/>
<polygon points="349.4,1927.25 353.2,1933.25 349.4,1939.25 345.6,1933.25" fill="#999999"/>
<polygon points="349.4,1985.44 353.2,1991.44 349.4,1997.44 345.6,1991.44" fill="#999999"/>
<circle cx="336.16" cy="1933" r="5.2" fill="#e29578"/>
<circle cx="345.65" cy="1991.44" r="5.2" fill="#e29578"/>
<circle cx="340.91" cy="2025.9" r="5.2" fill="#e29578"/>
<circle cx="337.66" cy="2055.62" r="5.2" fill="#e29578"/>
<circle cx="340.91" cy="2055.62" r="5.2" fill="#e29578"/>
<circle cx="362.14" cy="2064.12" r="5.2" fill="#e29578"/>
<circle cx="338.16" cy="2067.11" r="5.2" fill="#e29578"/>
<circle cx="360.39" cy="2077.6" r="5.2" fill="#e29578"/>
<circle cx="357.14" cy="2083.35" r="5.2" fill="#e29578"/>
<circle cx="349.15" cy="2090.84" r="5.2" fill="#e29578"/>
<circle cx="354.65" cy="2095.83" r="5.2" fill="#e29578"/>
<circle cx="361.64" cy="2096.33" r="5.2" fill="#e29578"/>
<circle cx="339.16" cy="2103.08" r="5.2" fill="#e29578"/>
<circle cx="348.4" cy="2105.32" r="5.2" fill="#e29578"/>
<circle cx="348.4" cy="2110.57" r="5.2" fill="#e29578"/>
<circle cx="347.9" cy="2117.56" r="5.2" fill="#e29578"/>
<circle cx="356.14" cy="2121.81" r="5.2" fill="#e29578"/>
<circle cx="207.29" cy="1937.24" r="5.2" fill="#006d77"/>
<circle cx="210.54" cy="1935.49" r="5.2" fill="#006d77"/>
<circle cx="204.8" cy="2016.41" r="5.2" fill="#006d77"/>
<circle cx="211.29" cy="2031.4" r="5.2" fill="#006d77"/>
<polygon points="337.26,2069.81 339.66,2072.21 342.06,2069.81 344.46,2072.21 342.06,2074.61 344.46,2077.01 342.06,2079.41 339.66,2077.01 337.26,2079.41 334.86,2077.01 337.26,2074.61 334.86,2072.21" fill="#e29578" stroke="#ff0000" stroke-width="1.8" stroke-linejoin="miter"/>
<polygon points="347.25,2072.3 349.65,2074.7 352.05,2072.3 354.45,2074.7 352.05,2077.1 354.45,2079.5 352.05,2081.9 349.65,2079.5 347.25,2081.9 344.85,2079.5 347.25,2077.1 344.85,2074.7" fill="#e29578" stroke="#ff0000" stroke-width="1.8" stroke-linejoin="miter"/>
<polygon points="206.89,2042.33 209.29,2044.73 211.69,2042.33 214.09,2044.73 211.69,2047.13 214.09,2049.53 211.69,2051.93 209.29,2049.53 206.89,2051.93 204.49,2049.53 206.89,2047.13 204.49,2044.73" fill="#006d77" stroke="#ff0000" stroke-width="1.8" stroke-linejoin="miter"/>
<polygon points="206.89,2053.57 209.29,2055.97 211.69,2053.57 214.09,2055.97 211.69,2058.37 214.09,2060.77 211.69,2063.17 209.29,2060.77 206.89,2063.17 204.49,2060.77 206.89,2058.37 204.49,2055.97" fill="#006d77" stroke="#ff0000" stroke-width="1.8" stroke-linejoin="miter"/>
<line x1="146.1" y1="1923.5" x2="146.1" y2="2132.25" stroke="#262626" stroke-width="1.9"/>
<line x1="145.15" y1="2131.3" x2="417.5" y2="2131.3" stroke="#262626" stroke-width="1.9"/>
<line x1="213.8" y1="2131.3" x2="213.8" y2="2137.1" stroke="#262626" stroke-width="1.8"/>
<text transform="translate(213.8 2158.6) scale(1 1.0800)" font-size="20.2" text-anchor="middle">0-I</text>
<line x1="349.5" y1="2131.3" x2="349.5" y2="2137.1" stroke="#262626" stroke-width="1.8"/>
<text transform="translate(349.5 2158.6) scale(1 1.0800)" font-size="20.2" text-anchor="middle">II-III</text>
<line x1="140.3" y1="1936" x2="146.1" y2="1936" stroke="#262626" stroke-width="1.8"/>
<text transform="translate(135.3 1944.56) scale(1 1.0800)" font-size="20.2" text-anchor="end">1.0</text>
<line x1="140.3" y1="2030.15" x2="146.1" y2="2030.15" stroke="#262626" stroke-width="1.8"/>
<text transform="translate(135.3 2038.71) scale(1 1.0800)" font-size="20.2" text-anchor="end">0.5</text>
<line x1="140.3" y1="2124.3" x2="146.1" y2="2124.3" stroke="#262626" stroke-width="1.8"/>
<text transform="translate(135.3 2132.86) scale(1 1.0800)" font-size="20.2" text-anchor="end">0.0</text>
<polyline points="213.8,1918 213.8,1913.6 349.5,1913.6 349.5,1918" fill="none" stroke="#2b2b2b" stroke-width="2.4"/>
<text transform="translate(281.65 1908.5) scale(1 1.0800)" font-size="14.5" text-anchor="middle">M.W.W. p = 0.0056</text>
<text transform="translate(634.1 1851.8) scale(1 1.0800)" font-size="17.4" text-anchor="middle">Macrophage M1</text>
<line x1="566.6" y1="1932.7" x2="566.6" y2="1944" stroke="#999999" stroke-width="2.4"/>
<line x1="566.6" y1="2050.1" x2="566.6" y2="2105.3" stroke="#999999" stroke-width="2.4"/>
<line x1="538.69" y1="1932.7" x2="594.51" y2="1932.7" stroke="#999999" stroke-width="2.4"/>
<line x1="538.69" y1="2105.3" x2="594.51" y2="2105.3" stroke="#999999" stroke-width="2.4"/>
<rect x="512.4" y="1944" width="108.4" height="106.1" fill="#fff" stroke="#999999" stroke-width="2.4"/>
<line x1="512.4" y1="1954.7" x2="620.8" y2="1954.7" stroke="#999999" stroke-width="2.4"/>
<line x1="701.85" y1="2051.9" x2="701.85" y2="2071.1" stroke="#999999" stroke-width="2.4"/>
<line x1="701.85" y1="2103.3" x2="701.85" y2="2122.1" stroke="#999999" stroke-width="2.4"/>
<line x1="673.76" y1="2051.9" x2="729.94" y2="2051.9" stroke="#999999" stroke-width="2.4"/>
<line x1="673.76" y1="2122.1" x2="729.94" y2="2122.1" stroke="#999999" stroke-width="2.4"/>
<rect x="647.3" y="2071.1" width="109.1" height="32.2" fill="#fff" stroke="#999999" stroke-width="2.4"/>
<line x1="647.3" y1="2087.6" x2="756.4" y2="2087.6" stroke="#999999" stroke-width="2.4"/>
<polygon points="701.7,1985.19 705.5,1991.19 701.7,1997.19 697.9,1991.19" fill="#999999"/>
<circle cx="709.69" cy="1991.19" r="5.2" fill="#e29578"/>
<circle cx="703.45" cy="2051.63" r="5.2" fill="#e29578"/>
<circle cx="699.45" cy="2055.87" r="5.2" fill="#e29578"/>
<circle cx="706.69" cy="2065.11" r="5.2" fill="#e29578"/>
<circle cx="710.94" cy="2070.36" r="5.2" fill="#e29578"/>
<circle cx="715.68" cy="2071.61" r="5.2" fill="#e29578"/>
<circle cx="706.69" cy="2075.1" r="5.2" fill="#e29578"/>
<circle cx="688.46" cy="2076.1" r="5.2" fill="#e29578"/>
<circle cx="711.19" cy="2088.09" r="5.2" fill="#e29578"/>
<circle cx="709.69" cy="2093.34" r="5.2" fill="#e29578"/>
<circle cx="705.94" cy="2096.58" r="5.2" fill="#e29578"/>
<circle cx="691.71" cy="2103.83" r="5.2" fill="#e29578"/>
<circle cx="712.94" cy="2103.33" r="5.2" fill="#e29578"/>
<circle cx="697.7" cy="2122.06" r="5.2" fill="#e29578"/>
<circle cx="705.19" cy="2120.06" r="5.2" fill="#e29578"/>
<circle cx="709.69" cy="2121.81" r="5.2" fill="#e29578"/>
<circle cx="571.83" cy="1943.49" r="5.2" fill="#006d77"/>
<circle cx="567.33" cy="1965.71" r="5.2" fill="#006d77"/>
<circle cx="577.57" cy="2078.35" r="5.2" fill="#006d77"/>
<circle cx="560.34" cy="2105.07" r="5.2" fill="#006d77"/>
<polygon points="687.31,2080.54 689.71,2082.94 692.11,2080.54 694.51,2082.94 692.11,2085.34 694.51,2087.74 692.11,2090.14 689.71,2087.74 687.31,2090.14 684.91,2087.74 687.31,2085.34 684.91,2082.94" fill="#e29578" stroke="#ff0000" stroke-width="1.8" stroke-linejoin="miter"/>
<polygon points="694.55,2097.53 696.95,2099.93 699.35,2097.53 701.75,2099.93 699.35,2102.33 701.75,2104.73 699.35,2107.13 696.95,2104.73 694.55,2107.13 692.15,2104.73 694.55,2102.33 692.15,2099.93" fill="#e29578" stroke="#ff0000" stroke-width="1.8" stroke-linejoin="miter"/>
<polygon points="558.19,1927.95 560.59,1930.35 562.99,1927.95 565.39,1930.35 562.99,1932.75 565.39,1935.15 562.99,1937.55 560.59,1935.15 558.19,1937.55 555.79,1935.15 558.19,1932.75 555.79,1930.35" fill="#006d77" stroke="#ff0000" stroke-width="1.8" stroke-linejoin="miter"/>
<polygon points="566.43,1939.19 568.83,1941.59 571.23,1939.19 573.63,1941.59 571.23,1943.99 573.63,1946.39 571.23,1948.79 568.83,1946.39 566.43,1948.79 564.03,1946.39 566.43,1943.99 564.03,1941.59" fill="#006d77" stroke="#ff0000" stroke-width="1.8" stroke-linejoin="miter"/>
<line x1="498.4" y1="1923.5" x2="498.4" y2="2132.25" stroke="#262626" stroke-width="1.9"/>
<line x1="497.45" y1="2131.3" x2="769.8" y2="2131.3" stroke="#262626" stroke-width="1.9"/>
<line x1="566.1" y1="2131.3" x2="566.1" y2="2137.1" stroke="#262626" stroke-width="1.8"/>
<text transform="translate(566.1 2158.6) scale(1 1.0800)" font-size="20.2" text-anchor="middle">0-I</text>
<line x1="701.8" y1="2131.3" x2="701.8" y2="2137.1" stroke="#262626" stroke-width="1.8"/>
<text transform="translate(701.8 2158.6) scale(1 1.0800)" font-size="20.2" text-anchor="middle">II-III</text>
<line x1="492.6" y1="1947.2" x2="498.4" y2="1947.2" stroke="#262626" stroke-width="1.8"/>
<text transform="translate(487.6 1955.76) scale(1 1.0800)" font-size="20.2" text-anchor="end">0.75</text>
<line x1="492.6" y1="2006.9" x2="498.4" y2="2006.9" stroke="#262626" stroke-width="1.8"/>
<text transform="translate(487.6 2015.46) scale(1 1.0800)" font-size="20.2" text-anchor="end">0.50</text>
<line x1="492.6" y1="2066.6" x2="498.4" y2="2066.6" stroke="#262626" stroke-width="1.8"/>
<text transform="translate(487.6 2075.16) scale(1 1.0800)" font-size="20.2" text-anchor="end">0.25</text>
<line x1="492.6" y1="2126.3" x2="498.4" y2="2126.3" stroke="#262626" stroke-width="1.8"/>
<text transform="translate(487.6 2134.86) scale(1 1.0800)" font-size="20.2" text-anchor="end">0.00</text>
<polyline points="566.1,1918 566.1,1913.6 701.8,1913.6 701.8,1918" fill="none" stroke="#2b2b2b" stroke-width="2.4"/>
<text transform="translate(633.95 1908.5) scale(1 1.0800)" font-size="14.5" text-anchor="middle">M.W.W. p = 0.036</text>
<text transform="translate(986.6 1851.8) scale(1 1.0800)" font-size="17.4" text-anchor="middle">T cell CD4+ memory activated</text>
<line x1="918.9" y1="1933" x2="918.9" y2="1982.9" stroke="#999999" stroke-width="2.4"/>
<line x1="918.9" y1="2092.6" x2="918.9" y2="2122.1" stroke="#999999" stroke-width="2.4"/>
<line x1="890.73" y1="1933" x2="947.07" y2="1933" stroke="#999999" stroke-width="2.4"/>
<line x1="890.73" y1="2122.1" x2="947.07" y2="2122.1" stroke="#999999" stroke-width="2.4"/>
<rect x="864.2" y="1982.9" width="109.4" height="109.7" fill="#fff" stroke="#999999" stroke-width="2.4"/>
<line x1="864.2" y1="2002.9" x2="973.6" y2="2002.9" stroke="#999999" stroke-width="2.4"/>
<line x1="1054.6" y1="2119.8" x2="1054.6" y2="2120" stroke="#999999" stroke-width="2.4"/>
<line x1="1054.6" y1="2122.6" x2="1054.6" y2="2122.8" stroke="#999999" stroke-width="2.4"/>
<line x1="1026.48" y1="2119.8" x2="1082.72" y2="2119.8" stroke="#999999" stroke-width="2.4"/>
<line x1="1026.48" y1="2122.8" x2="1082.72" y2="2122.8" stroke="#999999" stroke-width="2.4"/>
<rect x="1000" y="2120" width="109.2" height="2.6" fill="#fff" stroke="#999999" stroke-width="2.4"/>
<line x1="1000" y1="2121.3" x2="1109.2" y2="2121.3" stroke="#999999" stroke-width="2.4"/>
<polygon points="1054.48,2071.1 1058.28,2077.1 1054.48,2083.1 1050.68,2077.1" fill="#999999"/>
<polygon points="1053.48,2081.09 1057.28,2087.09 1053.48,2093.09 1049.68,2087.09" fill="#999999"/>
<polygon points="1053.98,2096.83 1057.78,2102.83 1053.98,2108.83 1050.18,2102.83" fill="#999999"/>
<polygon points="1054.48,2107.32 1058.28,2113.32 1054.48,2119.32 1050.68,2113.32" fill="#999999"/>
<circle cx="1062.97" cy="2076.85" r="5.2" fill="#e29578"/>
<circle cx="1056.97" cy="2087.09" r="5.2" fill="#e29578"/>
<circle cx="1061.47" cy="2103.08" r="5.2" fill="#e29578"/>
<circle cx="1046.23" cy="2114.07" r="5.2" fill="#e29578"/>
<circle cx="1044.74" cy="2122.06" r="5.2" fill="#e29578"/>
<circle cx="1052.23" cy="2121.56" r="5.2" fill="#e29578"/>
<circle cx="1055.97" cy="2122.06" r="5.2" fill="#e29578"/>
<circle cx="1059.72" cy="2122.06" r="5.2" fill="#e29578"/>
<circle cx="1066.71" cy="2122.06" r="5.2" fill="#e29578"/>
<circle cx="930.35" cy="1933.25" r="5.2" fill="#006d77"/>
<circle cx="913.87" cy="1977.2" r="5.2" fill="#006d77"/>
<circle cx="918.86" cy="2122.06" r="5.2" fill="#006d77"/>
<circle cx="927.85" cy="2122.06" r="5.2" fill="#006d77"/>
<polygon points="1046.33,2116.76 1048.73,2119.16 1051.13,2116.76 1053.53,2119.16 1051.13,2121.56 1053.53,2123.96 1051.13,2126.36 1048.73,2123.96 1046.33,2126.36 1043.93,2123.96 1046.33,2121.56 1043.93,2119.16" fill="#e29578" stroke="#ff0000" stroke-width="1.8" stroke-linejoin="miter"/>
<polygon points="1060.57,2116.26 1062.97,2118.66 1065.37,2116.26 1067.77,2118.66 1065.37,2121.06 1067.77,2123.46 1065.37,2125.86 1062.97,2123.46 1060.57,2125.86 1058.17,2123.46 1060.57,2121.06 1058.17,2118.66" fill="#e29578" stroke="#ff0000" stroke-width="1.8" stroke-linejoin="miter"/>
<polygon points="907.47,1995.63 909.87,1998.03 912.27,1995.63 914.67,1998.03 912.27,2000.43 914.67,2002.83 912.27,2005.23 909.87,2002.83 907.47,2005.23 905.07,2002.83 907.47,2000.43 905.07,1998.03" fill="#006d77" stroke="#ff0000" stroke-width="1.8" stroke-linejoin="miter"/>
<polygon points="910.72,1999.88 913.12,2002.28 915.52,1999.88 917.92,2002.28 915.52,2004.68 917.92,2007.08 915.52,2009.48 913.12,2007.08 910.72,2009.48 908.32,2007.08 910.72,2004.68 908.32,2002.28" fill="#006d77" stroke="#ff0000" stroke-width="1.8" stroke-linejoin="miter"/>
<line x1="850.9" y1="1923.5" x2="850.9" y2="2132.25" stroke="#262626" stroke-width="1.9"/>
<line x1="849.95" y1="2131.3" x2="1122.3" y2="2131.3" stroke="#262626" stroke-width="1.9"/>
<line x1="918.6" y1="2131.3" x2="918.6" y2="2137.1" stroke="#262626" stroke-width="1.8"/>
<text transform="translate(918.6 2158.6) scale(1 1.0800)" font-size="20.2" text-anchor="middle">0-I</text>
<line x1="1054.3" y1="2131.3" x2="1054.3" y2="2137.1" stroke="#262626" stroke-width="1.8"/>
<text transform="translate(1054.3 2158.6) scale(1 1.0800)" font-size="20.2" text-anchor="middle">II-III</text>
<line x1="845.1" y1="1937.7" x2="850.9" y2="1937.7" stroke="#262626" stroke-width="1.8"/>
<text transform="translate(840.1 1946.26) scale(1 1.0800)" font-size="20.2" text-anchor="end">0.2</text>
<line x1="845.1" y1="2029.9" x2="850.9" y2="2029.9" stroke="#262626" stroke-width="1.8"/>
<text transform="translate(840.1 2038.46) scale(1 1.0800)" font-size="20.2" text-anchor="end">0.1</text>
<line x1="845.1" y1="2122.1" x2="850.9" y2="2122.1" stroke="#262626" stroke-width="1.8"/>
<text transform="translate(840.1 2130.66) scale(1 1.0800)" font-size="20.2" text-anchor="end">0.0</text>
<polyline points="918.6,1918 918.6,1913.6 1054.3,1913.6 1054.3,1918" fill="none" stroke="#2b2b2b" stroke-width="2.4"/>
<text transform="translate(986.45 1908.5) scale(1 1.0800)" font-size="14.5" text-anchor="middle">M.W.W. p = 0.024</text>
<text transform="translate(71 2028.4) rotate(-90)" font-size="21.9" text-anchor="middle">Tumor Infiltration Level</text>
<text transform="translate(94 2028.4) rotate(-90)" font-size="21.9" text-anchor="middle">(CIBERSORT)</text>
<!-- panel F -->
<g shape-rendering="crispEdges">
<rect x="1154" y="1726.6" width="133.46" height="20.6" fill="#006d77"/>
<rect x="1287.46" y="1726.6" width="422.64" height="20.6" fill="#e29578"/>
<rect x="1154" y="1747.2" width="66.73" height="20.9" fill="#003049"/>
<rect x="1220.73" y="1747.2" width="66.73" height="20.9" fill="#fca311"/>
<rect x="1287.46" y="1747.2" width="200.2" height="20.9" fill="#003049"/>
<rect x="1487.66" y="1747.2" width="222.44" height="20.9" fill="#fca311"/>
<rect x="1154" y="1772.4" width="22.54" height="64.82" fill="#67001f"/>
<rect x="1176.24" y="1772.4" width="22.54" height="64.82" fill="#d6604d"/>
<rect x="1198.49" y="1772.4" width="22.54" height="64.82" fill="#fcd5bf"/>
<rect x="1220.73" y="1772.4" width="22.54" height="64.82" fill="#f5aa89"/>
<rect x="1242.98" y="1772.4" width="22.54" height="64.82" fill="#fdd9c4"/>
<rect x="1265.22" y="1772.4" width="22.54" height="64.82" fill="#d4e6f1"/>
<rect x="1287.46" y="1772.4" width="22.54" height="64.82" fill="#e9f0f4"/>
<rect x="1309.71" y="1772.4" width="22.54" height="64.82" fill="#5fa5cd"/>
<rect x="1331.95" y="1772.4" width="22.54" height="64.82" fill="#f9f0eb"/>
<rect x="1354.2" y="1772.4" width="22.54" height="64.82" fill="#3681ba"/>
<rect x="1376.44" y="1772.4" width="22.54" height="64.82" fill="#f8bfa4"/>
<rect x="1398.68" y="1772.4" width="22.54" height="64.82" fill="#f9c6ac"/>
<rect x="1420.93" y="1772.4" width="22.54" height="64.82" fill="#2267ac"/>
<rect x="1443.17" y="1772.4" width="22.54" height="64.82" fill="#e0ecf3"/>
<rect x="1465.42" y="1772.4" width="22.54" height="64.82" fill="#e4eef4"/>
<rect x="1487.66" y="1772.4" width="22.54" height="64.82" fill="#7bb6d6"/>
<rect x="1509.9" y="1772.4" width="22.54" height="64.82" fill="#f5aa89"/>
<rect x="1532.15" y="1772.4" width="22.54" height="64.82" fill="#b1d5e7"/>
<rect x="1554.39" y="1772.4" width="22.54" height="64.82" fill="#a2cde3"/>
<rect x="1576.64" y="1772.4" width="22.54" height="64.82" fill="#790622"/>
<rect x="1598.88" y="1772.4" width="22.54" height="64.82" fill="#b1d5e7"/>
<rect x="1621.12" y="1772.4" width="22.54" height="64.82" fill="#fce2d2"/>
<rect x="1643.37" y="1772.4" width="22.54" height="64.82" fill="#2a71b2"/>
<rect x="1665.61" y="1772.4" width="22.54" height="64.82" fill="#e6eff4"/>
<rect x="1687.86" y="1772.4" width="22.54" height="64.82" fill="#f7f6f6"/>
<rect x="1154" y="1836.92" width="22.54" height="64.82" fill="#d5e7f1"/>
<rect x="1176.24" y="1836.92" width="22.54" height="64.82" fill="#dd7059"/>
<rect x="1198.49" y="1836.92" width="22.54" height="64.82" fill="#c43b3c"/>
<rect x="1220.73" y="1836.92" width="22.54" height="64.82" fill="#e98b6e"/>
<rect x="1242.98" y="1836.92" width="22.54" height="64.82" fill="#f8bfa4"/>
<rect x="1265.22" y="1836.92" width="22.54" height="64.82" fill="#f7b799"/>
<rect x="1287.46" y="1836.92" width="22.54" height="64.82" fill="#fbe5d8"/>
<rect x="1309.71" y="1836.92" width="22.54" height="64.82" fill="#fce0d0"/>
<rect x="1331.95" y="1836.92" width="22.54" height="64.82" fill="#e48066"/>
<rect x="1354.2" y="1836.92" width="22.54" height="64.82" fill="#b1d5e7"/>
<rect x="1376.44" y="1836.92" width="22.54" height="64.82" fill="#fce2d2"/>
<rect x="1398.68" y="1836.92" width="22.54" height="64.82" fill="#f7b799"/>
<rect x="1420.93" y="1836.92" width="22.54" height="64.82" fill="#ec9374"/>
<rect x="1443.17" y="1836.92" width="22.54" height="64.82" fill="#dd7059"/>
<rect x="1465.42" y="1836.92" width="22.54" height="64.82" fill="#4997c5"/>
<rect x="1487.66" y="1836.92" width="22.54" height="64.82" fill="#4695c4"/>
<rect x="1509.9" y="1836.92" width="22.54" height="64.82" fill="#ddebf2"/>
<rect x="1532.15" y="1836.92" width="22.54" height="64.82" fill="#d5e7f1"/>
<rect x="1554.39" y="1836.92" width="22.54" height="64.82" fill="#9bc9e0"/>
<rect x="1576.64" y="1836.92" width="22.54" height="64.82" fill="#e4eef4"/>
<rect x="1598.88" y="1836.92" width="22.54" height="64.82" fill="#fddbc7"/>
<rect x="1621.12" y="1836.92" width="22.54" height="64.82" fill="#1d5fa2"/>
<rect x="1643.37" y="1836.92" width="22.54" height="64.82" fill="#0f437b"/>
<rect x="1665.61" y="1836.92" width="22.54" height="64.82" fill="#3a87bd"/>
<rect x="1687.86" y="1836.92" width="22.54" height="64.82" fill="#d5e7f1"/>
<rect x="1154" y="1901.44" width="22.54" height="64.82" fill="#e6eff4"/>
<rect x="1176.24" y="1901.44" width="22.54" height="64.82" fill="#67001f"/>
<rect x="1198.49" y="1901.44" width="22.54" height="64.82" fill="#67001f"/>
<rect x="1220.73" y="1901.44" width="22.54" height="64.82" fill="#67001f"/>
<rect x="1242.98" y="1901.44" width="22.54" height="64.82" fill="#e6eff4"/>
<rect x="1265.22" y="1901.44" width="22.54" height="64.82" fill="#cae1ee"/>
<rect x="1287.46" y="1901.44" width="22.54" height="64.82" fill="#bddbea"/>
<rect x="1309.71" y="1901.44" width="22.54" height="64.82" fill="#bddbea"/>
<rect x="1331.95" y="1901.44" width="22.54" height="64.82" fill="#fbd0b9"/>
<rect x="1354.2" y="1901.44" width="22.54" height="64.82" fill="#90c4dd"/>
<rect x="1376.44" y="1901.44" width="22.54" height="64.82" fill="#fddbc7"/>
<rect x="1398.68" y="1901.44" width="22.54" height="64.82" fill="#fce2d2"/>
<rect x="1420.93" y="1901.44" width="22.54" height="64.82" fill="#fbe5d8"/>
<rect x="1443.17" y="1901.44" width="22.54" height="64.82" fill="#c53e3d"/>
<rect x="1465.42" y="1901.44" width="22.54" height="64.82" fill="#9bc9e0"/>
<rect x="1487.66" y="1901.44" width="22.54" height="64.82" fill="#4997c5"/>
<rect x="1509.9" y="1901.44" width="22.54" height="64.82" fill="#ddebf2"/>
<rect x="1532.15" y="1901.44" width="22.54" height="64.82" fill="#b1d5e7"/>
<rect x="1554.39" y="1901.44" width="22.54" height="64.82" fill="#b6d7e8"/>
<rect x="1576.64" y="1901.44" width="22.54" height="64.82" fill="#ecf2f5"/>
<rect x="1598.88" y="1901.44" width="22.54" height="64.82" fill="#d7e8f1"/>
<rect x="1621.12" y="1901.44" width="22.54" height="64.82" fill="#e4eef4"/>
<rect x="1643.37" y="1901.44" width="22.54" height="64.82" fill="#c5dfec"/>
<rect x="1665.61" y="1901.44" width="22.54" height="64.82" fill="#4393c3"/>
<rect x="1687.86" y="1901.44" width="22.54" height="64.82" fill="#7bb6d6"/>
<rect x="1154" y="1965.96" width="22.54" height="64.82" fill="#f19e7d"/>
<rect x="1176.24" y="1965.96" width="22.54" height="64.82" fill="#8a0b25"/>
<rect x="1198.49" y="1965.96" width="22.54" height="64.82" fill="#9f1228"/>
<rect x="1220.73" y="1965.96" width="22.54" height="64.82" fill="#d35a4a"/>
<rect x="1242.98" y="1965.96" width="22.54" height="64.82" fill="#b1d5e7"/>
<rect x="1265.22" y="1965.96" width="22.54" height="64.82" fill="#fce2d2"/>
<rect x="1287.46" y="1965.96" width="22.54" height="64.82" fill="#f7f6f6"/>
<rect x="1309.71" y="1965.96" width="22.54" height="64.82" fill="#f19e7d"/>
<rect x="1331.95" y="1965.96" width="22.54" height="64.82" fill="#ecf2f5"/>
<rect x="1354.2" y="1965.96" width="22.54" height="64.82" fill="#9bc9e0"/>
<rect x="1376.44" y="1965.96" width="22.54" height="64.82" fill="#fddbc7"/>
<rect x="1398.68" y="1965.96" width="22.54" height="64.82" fill="#fce2d2"/>
<rect x="1420.93" y="1965.96" width="22.54" height="64.82" fill="#f8bda1"/>
<rect x="1443.17" y="1965.96" width="22.54" height="64.82" fill="#dd7059"/>
<rect x="1465.42" y="1965.96" width="22.54" height="64.82" fill="#9bc9e0"/>
<rect x="1487.66" y="1965.96" width="22.54" height="64.82" fill="#96c7df"/>
<rect x="1509.9" y="1965.96" width="22.54" height="64.82" fill="#ddebf2"/>
<rect x="1532.15" y="1965.96" width="22.54" height="64.82" fill="#e6eff4"/>
<rect x="1554.39" y="1965.96" width="22.54" height="64.82" fill="#8dc2dc"/>
<rect x="1576.64" y="1965.96" width="22.54" height="64.82" fill="#9dcbe1"/>
<rect x="1598.88" y="1965.96" width="22.54" height="64.82" fill="#bddbea"/>
<rect x="1621.12" y="1965.96" width="22.54" height="64.82" fill="#7bb6d6"/>
<rect x="1643.37" y="1965.96" width="22.54" height="64.82" fill="#3a87bd"/>
<rect x="1665.61" y="1965.96" width="22.54" height="64.82" fill="#053061"/>
<rect x="1687.86" y="1965.96" width="22.54" height="64.82" fill="#fbe4d6"/>
<rect x="1154" y="2030.48" width="22.54" height="64.82" fill="#ba2832"/>
<rect x="1176.24" y="2030.48" width="22.54" height="64.82" fill="#b41c2d"/>
<rect x="1198.49" y="2030.48" width="22.54" height="64.82" fill="#d05548"/>
<rect x="1220.73" y="2030.48" width="22.54" height="64.82" fill="#d86551"/>
<rect x="1242.98" y="2030.48" width="22.54" height="64.82" fill="#d5e7f1"/>
<rect x="1265.22" y="2030.48" width="22.54" height="64.82" fill="#fbe5d8"/>
<rect x="1287.46" y="2030.48" width="22.54" height="64.82" fill="#e7f0f4"/>
<rect x="1309.71" y="2030.48" width="22.54" height="64.82" fill="#f6b394"/>
<rect x="1331.95" y="2030.48" width="22.54" height="64.82" fill="#c94741"/>
<rect x="1354.2" y="2030.48" width="22.54" height="64.82" fill="#ecf2f5"/>
<rect x="1376.44" y="2030.48" width="22.54" height="64.82" fill="#fbccb4"/>
<rect x="1398.68" y="2030.48" width="22.54" height="64.82" fill="#facab1"/>
<rect x="1420.93" y="2030.48" width="22.54" height="64.82" fill="#6eaed2"/>
<rect x="1443.17" y="2030.48" width="22.54" height="64.82" fill="#fcdecd"/>
<rect x="1465.42" y="2030.48" width="22.54" height="64.82" fill="#3681ba"/>
<rect x="1487.66" y="2030.48" width="22.54" height="64.82" fill="#0f437b"/>
<rect x="1509.9" y="2030.48" width="22.54" height="64.82" fill="#c5dfec"/>
<rect x="1532.15" y="2030.48" width="22.54" height="64.82" fill="#c5dfec"/>
<rect x="1554.39" y="2030.48" width="22.54" height="64.82" fill="#b6d7e8"/>
<rect x="1576.64" y="2030.48" width="22.54" height="64.82" fill="#e6eff4"/>
<rect x="1598.88" y="2030.48" width="22.54" height="64.82" fill="#d2e6f0"/>
<rect x="1621.12" y="2030.48" width="22.54" height="64.82" fill="#3a87bd"/>
<rect x="1643.37" y="2030.48" width="22.54" height="64.82" fill="#529dc8"/>
<rect x="1665.61" y="2030.48" width="22.54" height="64.82" fill="#b8d8e9"/>
<rect x="1687.86" y="2030.48" width="22.54" height="64.82" fill="#fce2d2"/>
<rect x="1154" y="2095" width="22.54" height="64.82" fill="#67001f"/>
<rect x="1176.24" y="2095" width="22.54" height="64.82" fill="#c84440"/>
<rect x="1198.49" y="2095" width="22.54" height="64.82" fill="#67001f"/>
<rect x="1220.73" y="2095" width="22.54" height="64.82" fill="#f7b799"/>
<rect x="1242.98" y="2095" width="22.54" height="64.82" fill="#cae1ee"/>
<rect x="1265.22" y="2095" width="22.54" height="64.82" fill="#fbe5d8"/>
<rect x="1287.46" y="2095" width="22.54" height="64.82" fill="#a7d0e4"/>
<rect x="1309.71" y="2095" width="22.54" height="64.82" fill="#fddbc7"/>
<rect x="1331.95" y="2095" width="22.54" height="64.82" fill="#f5f6f7"/>
<rect x="1354.2" y="2095" width="22.54" height="64.82" fill="#a2cde3"/>
<rect x="1376.44" y="2095" width="22.54" height="64.82" fill="#f8f2ef"/>
<rect x="1398.68" y="2095" width="22.54" height="64.82" fill="#f7b799"/>
<rect x="1420.93" y="2095" width="22.54" height="64.82" fill="#fae9df"/>
<rect x="1443.17" y="2095" width="22.54" height="64.82" fill="#fcdecd"/>
<rect x="1465.42" y="2095" width="22.54" height="64.82" fill="#a5cee3"/>
<rect x="1487.66" y="2095" width="22.54" height="64.82" fill="#bddbea"/>
<rect x="1509.9" y="2095" width="22.54" height="64.82" fill="#b8d8e9"/>
<rect x="1532.15" y="2095" width="22.54" height="64.82" fill="#f7b799"/>
<rect x="1554.39" y="2095" width="22.54" height="64.82" fill="#6eaed2"/>
<rect x="1576.64" y="2095" width="22.54" height="64.82" fill="#75b2d4"/>
<rect x="1598.88" y="2095" width="22.54" height="64.82" fill="#a7d0e4"/>
<rect x="1621.12" y="2095" width="22.54" height="64.82" fill="#f9c2a7"/>
<rect x="1643.37" y="2095" width="22.54" height="64.82" fill="#2a71b2"/>
<rect x="1665.61" y="2095" width="22.54" height="64.82" fill="#2b73b3"/>
<rect x="1687.86" y="2095" width="22.54" height="64.82" fill="#dae9f2"/>
</g>
<line x1="1710.1" y1="1804.66" x2="1717.7" y2="1804.66" stroke="#000" stroke-width="1.7"/>
<text x="1725.2" y="1815.66" font-size="29.6">EGF</text>
<line x1="1710.1" y1="1869.18" x2="1717.7" y2="1869.18" stroke="#000" stroke-width="1.7"/>
<text x="1725.2" y="1880.18" font-size="29.6">IL1A</text>
<line x1="1710.1" y1="1933.7" x2="1717.7" y2="1933.7" stroke="#000" stroke-width="1.7"/>
<text x="1725.2" y="1944.7" font-size="29.6">IL1B</text>
<line x1="1710.1" y1="1998.22" x2="1717.7" y2="1998.22" stroke="#000" stroke-width="1.7"/>
<text x="1725.2" y="2009.22" font-size="29.6">TNFA</text>
<line x1="1710.1" y1="2062.74" x2="1717.7" y2="2062.74" stroke="#000" stroke-width="1.7"/>
<text x="1725.2" y="2073.74" font-size="29.6">LIF</text>
<line x1="1710.1" y1="2127.26" x2="1717.7" y2="2127.26" stroke="#000" stroke-width="1.7"/>
<text x="1725.2" y="2138.26" font-size="29.6">IL27</text>
<line x1="1715.6" y1="1731.7" x2="1725.8" y2="1731.7" stroke="#000" stroke-width="1.7"/>
<line x1="1715.6" y1="1759.2" x2="1725.8" y2="1759.2" stroke="#000" stroke-width="1.7"/>
<text x="1735" y="1743.8" font-size="28.9">Response</text>
<text x="1734.8" y="1769.9" font-size="28.9">Treatment</text>
<text x="1895.6" y="1769.9" font-size="28.9">Arm</text>
<line x1="1165.12" y1="2160.4" x2="1165.12" y2="2167.2" stroke="#000" stroke-width="1.7"/>
<line x1="1209.61" y1="2160.4" x2="1209.61" y2="2167.2" stroke="#000" stroke-width="1.7"/>
<line x1="1254.1" y1="2160.4" x2="1254.1" y2="2167.2" stroke="#000" stroke-width="1.7"/>
<line x1="1298.59" y1="2160.4" x2="1298.59" y2="2167.2" stroke="#000" stroke-width="1.7"/>
<line x1="1343.07" y1="2160.4" x2="1343.07" y2="2167.2" stroke="#000" stroke-width="1.7"/>
<line x1="1387.56" y1="2160.4" x2="1387.56" y2="2167.2" stroke="#000" stroke-width="1.7"/>
<line x1="1432.05" y1="2160.4" x2="1432.05" y2="2167.2" stroke="#000" stroke-width="1.7"/>
<line x1="1476.54" y1="2160.4" x2="1476.54" y2="2167.2" stroke="#000" stroke-width="1.7"/>
<line x1="1521.03" y1="2160.4" x2="1521.03" y2="2167.2" stroke="#000" stroke-width="1.7"/>
<line x1="1565.51" y1="2160.4" x2="1565.51" y2="2167.2" stroke="#000" stroke-width="1.7"/>
<line x1="1610" y1="2160.4" x2="1610" y2="2167.2" stroke="#000" stroke-width="1.7"/>
<line x1="1654.49" y1="2160.4" x2="1654.49" y2="2167.2" stroke="#000" stroke-width="1.7"/>
<line x1="1698.98" y1="2160.4" x2="1698.98" y2="2167.2" stroke="#000" stroke-width="1.7"/>
<text x="1920.3" y="1803.4" font-size="21.25" text-anchor="middle">Response</text>
<rect x="1825.5" y="1834.1" width="43" height="15" fill="#006d77"/>
<text x="1885" y="1835" font-size="21.25">Favorable</text>
<text x="1885" y="1858.3" font-size="21.25">(RCB=0-I)</text>
<rect x="1825.5" y="1889" width="43" height="15" fill="#e29578"/>
<text x="1885" y="1890" font-size="21.25">Unfavorable</text>
<text x="1885" y="1913.2" font-size="21.25">(RCB=II-III)</text>
<text x="1920" y="1965.1" font-size="21.25" text-anchor="middle">Treatment Arm</text>
<rect x="1825.5" y="1981.5" width="43" height="15" fill="#003049"/>
<text x="1885" y="1996.7" font-size="21.25">Chemo-&gt;ICI</text>
<rect x="1825.5" y="2012.4" width="43" height="15" fill="#fca311"/>
<text x="1885" y="2027.6" font-size="21.25">ICI-&gt;Chemo</text>
<defs><linearGradient id="cb" x1="0" y1="0" x2="0" y2="1"><stop offset="0%" stop-color="#67001f"/><stop offset="4.17%" stop-color="#67001f"/><stop offset="8.33%" stop-color="#840924"/><stop offset="12.5%" stop-color="#a51429"/><stop offset="16.67%" stop-color="#bd2d35"/><stop offset="20.83%" stop-color="#cc4c44"/><stop offset="25%" stop-color="#dc6e57"/><stop offset="29.17%" stop-color="#e98b6e"/><stop offset="33.33%" stop-color="#f5aa89"/><stop offset="37.5%" stop-color="#f9c2a7"/><stop offset="41.67%" stop-color="#fddbc7"/><stop offset="45.83%" stop-color="#fae7dc"/><stop offset="50%" stop-color="#f8f4f2"/><stop offset="54.17%" stop-color="#eaf1f5"/><stop offset="58.33%" stop-color="#dae9f2"/><stop offset="62.5%" stop-color="#c2ddec"/><stop offset="66.67%" stop-color="#a7d0e4"/><stop offset="70.83%" stop-color="#87beda"/><stop offset="75%" stop-color="#65a9cf"/><stop offset="79.17%" stop-color="#4291c2"/><stop offset="83.33%" stop-color="#337eb8"/><stop offset="87.5%" stop-color="#2369ad"/><stop offset="91.67%" stop-color="#175290"/><stop offset="95.83%" stop-color="#09386d"/><stop offset="100%" stop-color="#053061"/></linearGradient></defs>
<rect x="1810" y="2054.1" width="27" height="92" fill="url(#cb)"/>
<line x1="1837" y1="2058.4" x2="1841" y2="2058.4" stroke="#000" stroke-width="1.9"/>
<text x="1844.3" y="2062.8" font-size="11.6">2</text>
<line x1="1837" y1="2100.9" x2="1841" y2="2100.9" stroke="#000" stroke-width="1.9"/>
<text x="1844.3" y="2105.3" font-size="11.6">0</text>
<line x1="1837" y1="2143.8" x2="1841" y2="2143.8" stroke="#000" stroke-width="1.9"/>
<text x="1844.3" y="2148.2" font-size="11.6">−2</text>
<text x="1862.3" y="2098.9" font-size="13.85">Z score</text>
<text x="1859" y="2114.6" font-size="13.85">(CytoSig Predicted Activity)</text>
</svg>
</body></html>
